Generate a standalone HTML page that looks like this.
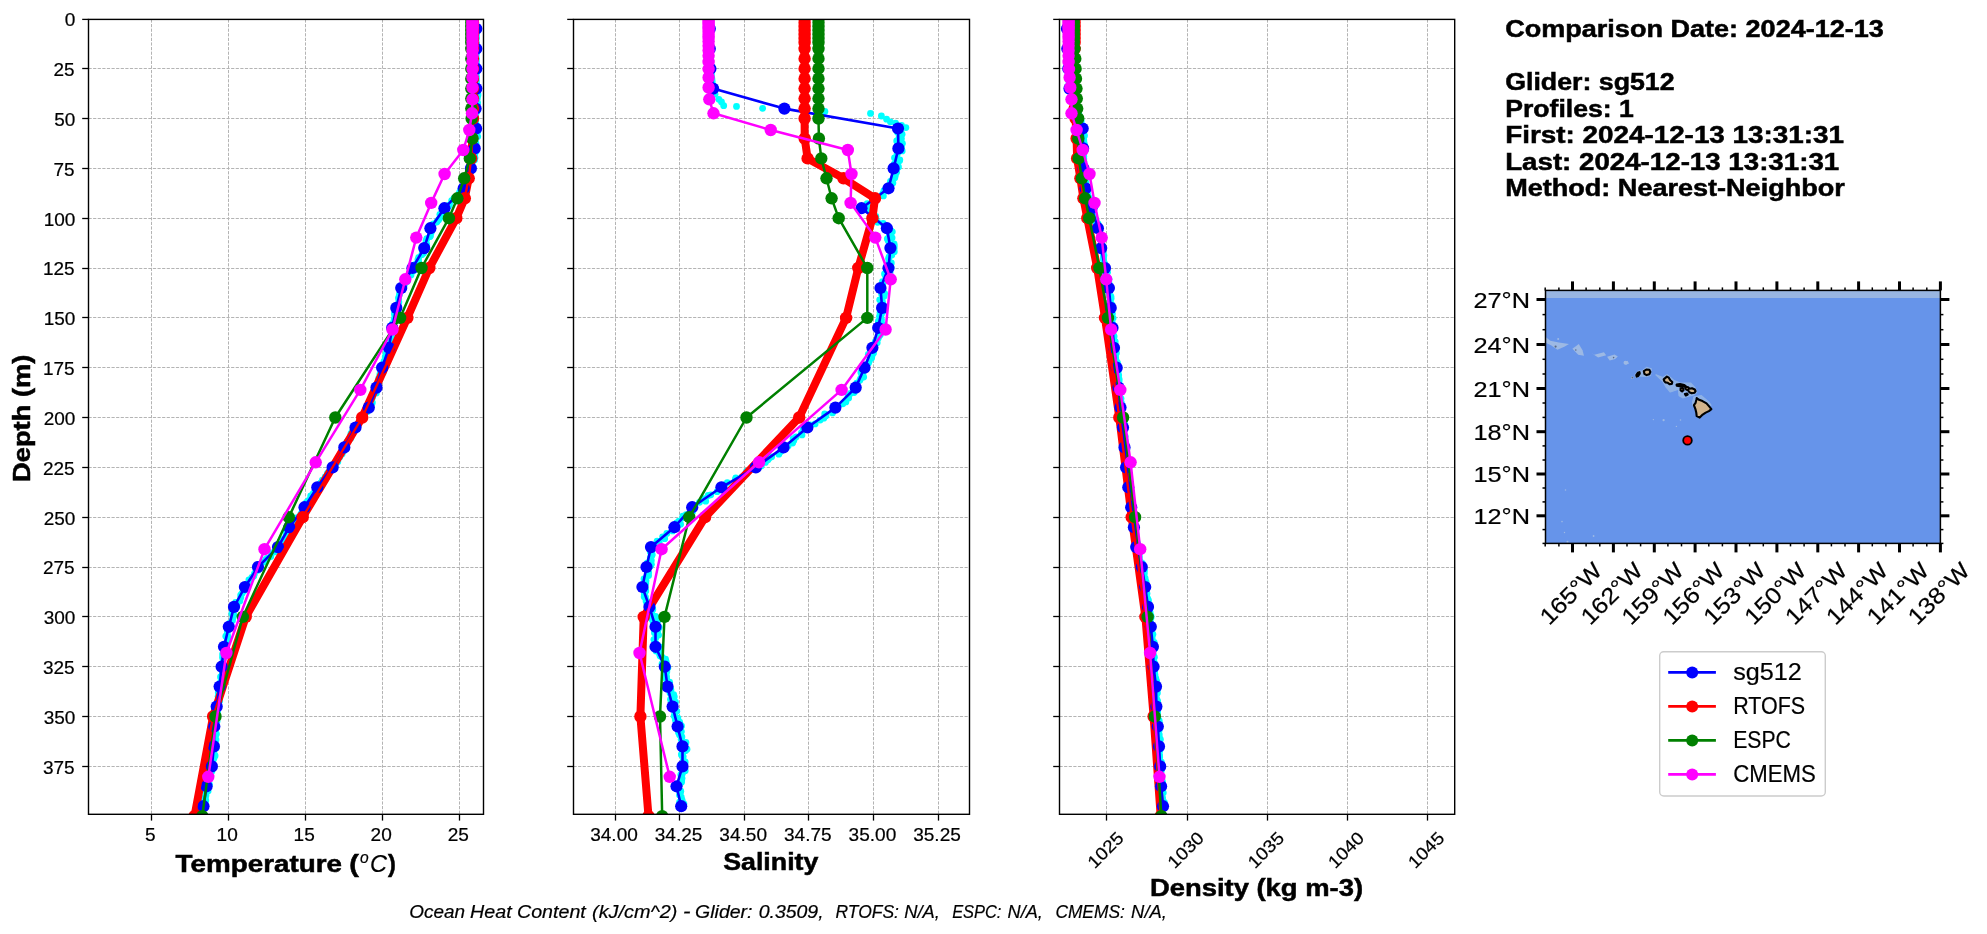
<!DOCTYPE html>
<html lang="en"><head><meta charset="utf-8"><title>Glider vs model profile comparison</title>
<style>html,body{margin:0;padding:0;background:#fff}svg{display:block;will-change:transform}text{font-family:"Liberation Sans",sans-serif}</style></head><body>
<svg width="1987" height="934" viewBox="0 0 1987 934">
<rect width="1987" height="934" fill="#fff"/>
<defs>
<clipPath id="c0"><rect x="88.5" y="19.4" width="395" height="794.9"/></clipPath>
<clipPath id="c1"><rect x="573.5" y="19.4" width="396" height="794.9"/></clipPath>
<clipPath id="c2"><rect x="1059.5" y="19.4" width="395.2" height="794.9"/></clipPath>
<clipPath id="cm"><rect x="1545.5" y="290.4" width="394.9" height="253"/></clipPath>
</defs>
<g stroke="#b4b4b4" stroke-width="1" stroke-dasharray="3.2 1.4" fill="none">
<line x1="151.5" y1="19.4" x2="151.5" y2="814.3"/>
<line x1="228.5" y1="19.4" x2="228.5" y2="814.3"/>
<line x1="305.5" y1="19.4" x2="305.5" y2="814.3"/>
<line x1="382.5" y1="19.4" x2="382.5" y2="814.3"/>
<line x1="459.5" y1="19.4" x2="459.5" y2="814.3"/>
<line x1="88.5" y1="68.5" x2="483.5" y2="68.5"/>
<line x1="88.5" y1="118.5" x2="483.5" y2="118.5"/>
<line x1="88.5" y1="168.5" x2="483.5" y2="168.5"/>
<line x1="88.5" y1="218.5" x2="483.5" y2="218.5"/>
<line x1="88.5" y1="268.5" x2="483.5" y2="268.5"/>
<line x1="88.5" y1="317.5" x2="483.5" y2="317.5"/>
<line x1="88.5" y1="367.5" x2="483.5" y2="367.5"/>
<line x1="88.5" y1="417.5" x2="483.5" y2="417.5"/>
<line x1="88.5" y1="467.5" x2="483.5" y2="467.5"/>
<line x1="88.5" y1="517.5" x2="483.5" y2="517.5"/>
<line x1="88.5" y1="567.5" x2="483.5" y2="567.5"/>
<line x1="88.5" y1="616.5" x2="483.5" y2="616.5"/>
<line x1="88.5" y1="666.5" x2="483.5" y2="666.5"/>
<line x1="88.5" y1="716.5" x2="483.5" y2="716.5"/>
<line x1="88.5" y1="766.5" x2="483.5" y2="766.5"/>
</g>
<g clip-path="url(#c0)">
<g fill="#00ffff">
<circle cx="476.3" cy="28.1" r="3.4"/><circle cx="476.3" cy="30.2" r="3.4"/><circle cx="476.3" cy="33" r="3.4"/><circle cx="476.3" cy="35.5" r="3.4"/><circle cx="476.3" cy="37.5" r="3.4"/><circle cx="476.3" cy="39.1" r="3.4"/><circle cx="476.3" cy="42.8" r="3.4"/><circle cx="476.3" cy="43.8" r="3.4"/><circle cx="476.3" cy="47.4" r="3.4"/><circle cx="476.3" cy="48.5" r="3.4"/><circle cx="476.3" cy="50.1" r="3.4"/><circle cx="476.3" cy="52.8" r="3.4"/><circle cx="476.3" cy="54.6" r="3.4"/><circle cx="476.3" cy="58.2" r="3.4"/><circle cx="476.3" cy="60" r="3.4"/><circle cx="476.3" cy="61.8" r="3.4"/><circle cx="476.3" cy="63.4" r="3.4"/><circle cx="476.3" cy="65.9" r="3.4"/><circle cx="476.3" cy="68.5" r="3.4"/><circle cx="476.3" cy="71.1" r="3.4"/><circle cx="476.3" cy="72.7" r="3.4"/><circle cx="476.3" cy="75.7" r="3.4"/><circle cx="476.3" cy="77.7" r="3.4"/><circle cx="476.3" cy="80.5" r="3.4"/><circle cx="476.3" cy="81.6" r="3.4"/><circle cx="476.3" cy="83.4" r="3.4"/><circle cx="476.3" cy="86.9" r="3.4"/><circle cx="475.9" cy="88.6" r="3.4"/><circle cx="475.5" cy="91.2" r="3.4"/><circle cx="477.7" cy="93.2" r="3.4"/><circle cx="478" cy="94.9" r="3.4"/><circle cx="477.3" cy="97.7" r="3.4"/><circle cx="476.9" cy="99.6" r="3.4"/><circle cx="477.6" cy="102.8" r="3.4"/><circle cx="476.4" cy="104.5" r="3.4"/><circle cx="475" cy="106.7" r="3.4"/><circle cx="476.8" cy="109.5" r="3.4"/><circle cx="477.4" cy="110.3" r="3.4"/><circle cx="476.1" cy="113.3" r="3.4"/><circle cx="475" cy="115.1" r="3.4"/><circle cx="475.5" cy="116.6" r="3.4"/><circle cx="475.2" cy="120.2" r="3.4"/><circle cx="475.5" cy="121.3" r="3.4"/><circle cx="476.4" cy="124.8" r="3.4"/><circle cx="475.4" cy="126.2" r="3.4"/><circle cx="477" cy="129.3" r="3.4"/><circle cx="477.7" cy="131.4" r="3.4"/><circle cx="475.8" cy="132.7" r="3.4"/><circle cx="475.9" cy="135.9" r="3.4"/><circle cx="477.7" cy="136.6" r="3.4"/><circle cx="475" cy="139" r="3.4"/><circle cx="475" cy="141.7" r="3.4"/><circle cx="476" cy="143.5" r="3.4"/><circle cx="474" cy="146" r="3.4"/><circle cx="475" cy="148.6" r="3.4"/><circle cx="476.4" cy="151" r="3.4"/><circle cx="474.6" cy="153.1" r="3.4"/><circle cx="474.7" cy="154.2" r="3.4"/><circle cx="475" cy="157.8" r="3.4"/><circle cx="474.5" cy="160.1" r="3.4"/><circle cx="472.5" cy="161.5" r="3.4"/><circle cx="471.2" cy="164.2" r="3.4"/><circle cx="470.6" cy="165.3" r="3.4"/><circle cx="470.7" cy="167.7" r="3.4"/><circle cx="470.3" cy="169.7" r="3.4"/><circle cx="468.4" cy="172.1" r="3.4"/><circle cx="467.9" cy="174.7" r="3.4"/><circle cx="466.9" cy="178" r="3.4"/><circle cx="468" cy="178.7" r="3.4"/><circle cx="466" cy="181.3" r="3.4"/><circle cx="465.6" cy="183.1" r="3.4"/><circle cx="466.3" cy="187.1" r="3.4"/><circle cx="464.3" cy="188.3" r="3.4"/><circle cx="461" cy="189.7" r="3.4"/><circle cx="459.6" cy="192.2" r="3.4"/><circle cx="459" cy="194.3" r="3.4"/><circle cx="454.3" cy="198.1" r="3.4"/><circle cx="453.8" cy="198.7" r="3.4"/><circle cx="451.7" cy="200.6" r="3.4"/><circle cx="449.5" cy="204.8" r="3.4"/><circle cx="448.4" cy="206.4" r="3.4"/><circle cx="444.4" cy="208" r="3.4"/><circle cx="442.5" cy="211" r="3.4"/><circle cx="442.1" cy="213.2" r="3.4"/><circle cx="439.9" cy="214.3" r="3.4"/><circle cx="439.9" cy="218.1" r="3.4"/><circle cx="438.5" cy="219.9" r="3.4"/><circle cx="436.8" cy="222" r="3.4"/><circle cx="433.4" cy="223.8" r="3.4"/><circle cx="432.2" cy="225" r="3.4"/><circle cx="429.6" cy="227.7" r="3.4"/><circle cx="429.7" cy="230.8" r="3.4"/><circle cx="431.2" cy="232.5" r="3.4"/><circle cx="430.5" cy="235.8" r="3.4"/><circle cx="429.8" cy="236.7" r="3.4"/><circle cx="426.8" cy="238.7" r="3.4"/><circle cx="426" cy="240.9" r="3.4"/><circle cx="426.7" cy="244.5" r="3.4"/><circle cx="426.7" cy="245.8" r="3.4"/><circle cx="425.4" cy="248.7" r="3.4"/><circle cx="422.3" cy="250.6" r="3.4"/><circle cx="423.6" cy="253.1" r="3.4"/><circle cx="421.8" cy="254.7" r="3.4"/><circle cx="418.7" cy="257.5" r="3.4"/><circle cx="417.9" cy="259.8" r="3.4"/><circle cx="418.6" cy="261.2" r="3.4"/><circle cx="415.5" cy="264.5" r="3.4"/><circle cx="415.2" cy="265.2" r="3.4"/><circle cx="412" cy="267.3" r="3.4"/><circle cx="413.3" cy="270.9" r="3.4"/><circle cx="409.6" cy="273.1" r="3.4"/><circle cx="411" cy="275" r="3.4"/><circle cx="407.7" cy="277" r="3.4"/><circle cx="405.8" cy="278.1" r="3.4"/><circle cx="407.2" cy="281.6" r="3.4"/><circle cx="404.5" cy="284.4" r="3.4"/><circle cx="403" cy="286.5" r="3.4"/><circle cx="403" cy="287.4" r="3.4"/><circle cx="400.6" cy="289.8" r="3.4"/><circle cx="400" cy="292.6" r="3.4"/><circle cx="399.5" cy="294.4" r="3.4"/><circle cx="398.6" cy="297.6" r="3.4"/><circle cx="398.7" cy="298.9" r="3.4"/><circle cx="398.9" cy="302.1" r="3.4"/><circle cx="397.9" cy="304.3" r="3.4"/><circle cx="397.6" cy="305.7" r="3.4"/><circle cx="397.1" cy="306.9" r="3.4"/><circle cx="396.4" cy="309.5" r="3.4"/><circle cx="394.5" cy="312.9" r="3.4"/><circle cx="394.6" cy="314.5" r="3.4"/><circle cx="395.9" cy="316.9" r="3.4"/><circle cx="394.2" cy="319" r="3.4"/><circle cx="394.5" cy="321.8" r="3.4"/><circle cx="392.6" cy="323.5" r="3.4"/><circle cx="392.6" cy="325.2" r="3.4"/><circle cx="393.8" cy="327.8" r="3.4"/><circle cx="392.8" cy="330.6" r="3.4"/><circle cx="393.5" cy="332.1" r="3.4"/><circle cx="392.2" cy="334.5" r="3.4"/><circle cx="391.5" cy="337.1" r="3.4"/><circle cx="390.9" cy="339" r="3.4"/><circle cx="390.6" cy="342" r="3.4"/><circle cx="391" cy="344.1" r="3.4"/><circle cx="391.4" cy="345.1" r="3.4"/><circle cx="389.8" cy="348.6" r="3.4"/><circle cx="390" cy="349.3" r="3.4"/><circle cx="386.9" cy="352.1" r="3.4"/><circle cx="386" cy="353.9" r="3.4"/><circle cx="385.2" cy="357" r="3.4"/><circle cx="386.8" cy="359.6" r="3.4"/><circle cx="384" cy="361.5" r="3.4"/><circle cx="384.8" cy="362.6" r="3.4"/><circle cx="384.8" cy="366.4" r="3.4"/><circle cx="381.9" cy="368.6" r="3.4"/><circle cx="381.9" cy="369.9" r="3.4"/><circle cx="383.1" cy="372.8" r="3.4"/><circle cx="379.9" cy="374.2" r="3.4"/><circle cx="380.4" cy="376.2" r="3.4"/><circle cx="378.7" cy="378.4" r="3.4"/><circle cx="379.8" cy="380" r="3.4"/><circle cx="378.6" cy="383.1" r="3.4"/><circle cx="376.3" cy="385.1" r="3.4"/><circle cx="377.6" cy="387.7" r="3.4"/><circle cx="375" cy="390.8" r="3.4"/><circle cx="376.4" cy="393" r="3.4"/><circle cx="373.4" cy="393.8" r="3.4"/><circle cx="372.3" cy="397" r="3.4"/><circle cx="372.2" cy="398" r="3.4"/><circle cx="371.8" cy="401.7" r="3.4"/><circle cx="372.3" cy="402.7" r="3.4"/><circle cx="369.3" cy="406.2" r="3.4"/><circle cx="369.7" cy="408" r="3.4"/><circle cx="366.7" cy="408.9" r="3.4"/><circle cx="367.2" cy="411.8" r="3.4"/><circle cx="363.7" cy="415.1" r="3.4"/><circle cx="364" cy="417" r="3.4"/><circle cx="360.8" cy="419.3" r="3.4"/><circle cx="359.3" cy="421.6" r="3.4"/><circle cx="359" cy="422.7" r="3.4"/><circle cx="357.9" cy="426.1" r="3.4"/><circle cx="355.5" cy="426.8" r="3.4"/><circle cx="355.1" cy="429.2" r="3.4"/><circle cx="352.5" cy="431.2" r="3.4"/><circle cx="351" cy="433.5" r="3.4"/><circle cx="350.6" cy="436" r="3.4"/><circle cx="350.8" cy="438.2" r="3.4"/><circle cx="348.8" cy="440.1" r="3.4"/><circle cx="347" cy="442" r="3.4"/><circle cx="345.5" cy="444.2" r="3.4"/><circle cx="345.8" cy="447.5" r="3.4"/><circle cx="342.7" cy="449.6" r="3.4"/><circle cx="343.8" cy="451.1" r="3.4"/><circle cx="342.1" cy="453.9" r="3.4"/><circle cx="339.8" cy="457" r="3.4"/><circle cx="338.2" cy="458.5" r="3.4"/><circle cx="337.8" cy="461.7" r="3.4"/><circle cx="335.4" cy="463.6" r="3.4"/><circle cx="335.3" cy="465.4" r="3.4"/><circle cx="333" cy="467.1" r="3.4"/><circle cx="330.2" cy="468.8" r="3.4"/><circle cx="328.5" cy="472.3" r="3.4"/><circle cx="327.4" cy="473.3" r="3.4"/><circle cx="325.2" cy="476.9" r="3.4"/><circle cx="326" cy="478.8" r="3.4"/><circle cx="322.4" cy="480.1" r="3.4"/><circle cx="320.8" cy="482.8" r="3.4"/><circle cx="318.6" cy="485" r="3.4"/><circle cx="317.3" cy="488.2" r="3.4"/><circle cx="318.1" cy="489.6" r="3.4"/><circle cx="314.4" cy="492.7" r="3.4"/><circle cx="313.1" cy="493.7" r="3.4"/><circle cx="310.7" cy="495.9" r="3.4"/><circle cx="310.8" cy="498.4" r="3.4"/><circle cx="308.5" cy="500.6" r="3.4"/><circle cx="306.5" cy="502.3" r="3.4"/><circle cx="305.3" cy="504.8" r="3.4"/><circle cx="303.8" cy="506.3" r="3.4"/><circle cx="302.9" cy="508.9" r="3.4"/><circle cx="302.1" cy="511.7" r="3.4"/><circle cx="300.9" cy="514.2" r="3.4"/><circle cx="299.1" cy="516.9" r="3.4"/><circle cx="296.4" cy="518" r="3.4"/><circle cx="296.6" cy="519.8" r="3.4"/><circle cx="294" cy="523" r="3.4"/><circle cx="290.2" cy="525.6" r="3.4"/><circle cx="291.2" cy="527.4" r="3.4"/><circle cx="289.4" cy="530" r="3.4"/><circle cx="286.3" cy="531.6" r="3.4"/><circle cx="286.2" cy="534.5" r="3.4"/><circle cx="285.9" cy="536.7" r="3.4"/><circle cx="284" cy="539" r="3.4"/><circle cx="283" cy="540.8" r="3.4"/><circle cx="280.3" cy="541.7" r="3.4"/><circle cx="278.8" cy="544.6" r="3.4"/><circle cx="277.5" cy="547.8" r="3.4"/><circle cx="276.7" cy="549.6" r="3.4"/><circle cx="274.7" cy="551.9" r="3.4"/><circle cx="272" cy="552.8" r="3.4"/><circle cx="270.8" cy="556.5" r="3.4"/><circle cx="267.6" cy="558.2" r="3.4"/><circle cx="265.9" cy="559.5" r="3.4"/><circle cx="263.9" cy="562.1" r="3.4"/><circle cx="259.6" cy="564.4" r="3.4"/><circle cx="259.5" cy="566.4" r="3.4"/><circle cx="258" cy="570.2" r="3.4"/><circle cx="255.8" cy="571.2" r="3.4"/><circle cx="254.3" cy="574" r="3.4"/><circle cx="253.8" cy="576.1" r="3.4"/><circle cx="251.9" cy="577.3" r="3.4"/><circle cx="248.9" cy="579.8" r="3.4"/><circle cx="249.3" cy="582.1" r="3.4"/><circle cx="247.3" cy="583.8" r="3.4"/><circle cx="244.2" cy="586.5" r="3.4"/><circle cx="245" cy="589.6" r="3.4"/><circle cx="243.8" cy="591" r="3.4"/><circle cx="242" cy="593.5" r="3.4"/><circle cx="240.7" cy="595.1" r="3.4"/><circle cx="240.8" cy="597.4" r="3.4"/><circle cx="239.9" cy="601.1" r="3.4"/><circle cx="235.6" cy="602.4" r="3.4"/><circle cx="237" cy="605.6" r="3.4"/><circle cx="234.6" cy="606.4" r="3.4"/><circle cx="233.2" cy="610" r="3.4"/><circle cx="232.6" cy="611.5" r="3.4"/><circle cx="231.8" cy="613.6" r="3.4"/><circle cx="233.9" cy="615" r="3.4"/><circle cx="232.9" cy="618" r="3.4"/><circle cx="232.5" cy="620.6" r="3.4"/><circle cx="229.8" cy="623.2" r="3.4"/><circle cx="230.1" cy="623.7" r="3.4"/><circle cx="227.9" cy="626.8" r="3.4"/><circle cx="228.8" cy="628.7" r="3.4"/><circle cx="227.3" cy="631" r="3.4"/><circle cx="227.3" cy="634.2" r="3.4"/><circle cx="225.8" cy="636.2" r="3.4"/><circle cx="227.9" cy="637.2" r="3.4"/><circle cx="227.7" cy="640.6" r="3.4"/><circle cx="227.1" cy="641.9" r="3.4"/><circle cx="224.8" cy="644.3" r="3.4"/><circle cx="226.3" cy="646.9" r="3.4"/><circle cx="224" cy="648.8" r="3.4"/><circle cx="223.5" cy="650.3" r="3.4"/><circle cx="222.6" cy="654.1" r="3.4"/><circle cx="223" cy="656.5" r="3.4"/><circle cx="222.6" cy="657.4" r="3.4"/><circle cx="223.2" cy="659.4" r="3.4"/><circle cx="222.4" cy="663.2" r="3.4"/><circle cx="223.8" cy="665.1" r="3.4"/><circle cx="222.7" cy="667.5" r="3.4"/><circle cx="223.5" cy="669" r="3.4"/><circle cx="222.6" cy="670.2" r="3.4"/><circle cx="222.4" cy="673.3" r="3.4"/><circle cx="222.2" cy="675.9" r="3.4"/><circle cx="220.5" cy="676.9" r="3.4"/><circle cx="222.4" cy="679.2" r="3.4"/><circle cx="220.7" cy="681.9" r="3.4"/><circle cx="219.9" cy="684.9" r="3.4"/><circle cx="221.8" cy="686.2" r="3.4"/><circle cx="220.5" cy="688.5" r="3.4"/><circle cx="219.9" cy="690.9" r="3.4"/><circle cx="218.3" cy="692.6" r="3.4"/><circle cx="218.1" cy="696.3" r="3.4"/><circle cx="218.7" cy="697.2" r="3.4"/><circle cx="219.7" cy="700.9" r="3.4"/><circle cx="217.9" cy="701.4" r="3.4"/><circle cx="216.8" cy="703.5" r="3.4"/><circle cx="216.9" cy="705.8" r="3.4"/><circle cx="216.3" cy="708.3" r="3.4"/><circle cx="217.1" cy="711.8" r="3.4"/><circle cx="217.4" cy="713" r="3.4"/><circle cx="216.1" cy="715.5" r="3.4"/><circle cx="215.7" cy="717.3" r="3.4"/><circle cx="214.4" cy="719.4" r="3.4"/><circle cx="217" cy="721.3" r="3.4"/><circle cx="215.3" cy="724.6" r="3.4"/><circle cx="216.2" cy="725.9" r="3.4"/><circle cx="214.2" cy="728.2" r="3.4"/><circle cx="214.6" cy="730.8" r="3.4"/><circle cx="216.3" cy="733.8" r="3.4"/><circle cx="216" cy="734.4" r="3.4"/><circle cx="213.3" cy="738" r="3.4"/><circle cx="216" cy="739.7" r="3.4"/><circle cx="215" cy="741" r="3.4"/><circle cx="214.3" cy="745.1" r="3.4"/><circle cx="215.7" cy="747.2" r="3.4"/><circle cx="215.9" cy="748.2" r="3.4"/><circle cx="212.9" cy="750.2" r="3.4"/><circle cx="214" cy="753.4" r="3.4"/><circle cx="215.1" cy="755.7" r="3.4"/><circle cx="214" cy="758" r="3.4"/><circle cx="213.2" cy="759.8" r="3.4"/><circle cx="211.6" cy="762.5" r="3.4"/><circle cx="212" cy="765" r="3.4"/><circle cx="213.1" cy="766" r="3.4"/><circle cx="210.8" cy="768.1" r="3.4"/><circle cx="211.9" cy="771.2" r="3.4"/><circle cx="209.6" cy="772.2" r="3.4"/><circle cx="210.3" cy="775.4" r="3.4"/><circle cx="209.3" cy="776.9" r="3.4"/><circle cx="209.4" cy="778.7" r="3.4"/><circle cx="207.9" cy="781.8" r="3.4"/><circle cx="209.4" cy="784.4" r="3.4"/><circle cx="208.5" cy="786.3" r="3.4"/><circle cx="206.1" cy="788" r="3.4"/><circle cx="208.1" cy="791.1" r="3.4"/><circle cx="205.7" cy="792" r="3.4"/><circle cx="205.9" cy="795.5" r="3.4"/><circle cx="205.3" cy="796.9" r="3.4"/><circle cx="205.8" cy="800.4" r="3.4"/><circle cx="204" cy="800.9" r="3.4"/><circle cx="204" cy="803.9" r="3.4"/>
</g>
<polyline fill="none" stroke="#ff0000" stroke-width="8" stroke-linejoin="round" stroke-linecap="butt" points="473,18.9 473,22.8 473,26.8 473,30.8 473,34.8 473,38.8 473,42.8 473,48.8 473,58.7 473,68.7 473,78.7 473,88.6 473,98.6 473,108.6 473,118.5 472.3,138.5 471.2,158.4 468.7,178.3 464.8,198.3 456.3,218.2 429.3,268 407.3,317.9 362.2,417.5 302.7,517.2 245.7,616.9 213.1,716.5 194.5,816.2"/>
<polyline fill="none" stroke="#0000ff" stroke-width="2.6" stroke-linejoin="round" stroke-linecap="butt" points="476.3,28.8 476.3,48.8 476.3,68.7 476.3,88.6 475.6,108.6 476.1,128.5 474.7,148.4 470.9,168.4 463.7,188.3 444.4,208.2 430.4,228.2 424.2,248.1 412.5,268 401.2,288 396.3,307.9 392.2,327.8 388.9,347.8 382.1,367.7 376.5,387.6 368.8,407.6 355.5,427.5 344.3,447.4 332.6,467.4 317.3,487.3 304.5,507.2 289.2,527.2 278,547.1 258,567 244.9,587 234,606.9 228.8,626.8 224,646.8 221.6,666.7 219.6,686.6 216.7,706.6 214.3,726.5 213.9,746.4 211.9,766.4 206.6,786.3 203.5,806.2"/>
<g fill="#0000ff">
<circle cx="476.3" cy="28.8" r="6.1"/><circle cx="476.3" cy="48.8" r="6.1"/><circle cx="476.3" cy="68.7" r="6.1"/><circle cx="476.3" cy="88.6" r="6.1"/><circle cx="475.6" cy="108.6" r="6.1"/><circle cx="476.1" cy="128.5" r="6.1"/><circle cx="474.7" cy="148.4" r="6.1"/><circle cx="470.9" cy="168.4" r="6.1"/><circle cx="463.7" cy="188.3" r="6.1"/><circle cx="444.4" cy="208.2" r="6.1"/><circle cx="430.4" cy="228.2" r="6.1"/><circle cx="424.2" cy="248.1" r="6.1"/><circle cx="412.5" cy="268" r="6.1"/><circle cx="401.2" cy="288" r="6.1"/><circle cx="396.3" cy="307.9" r="6.1"/><circle cx="392.2" cy="327.8" r="6.1"/><circle cx="388.9" cy="347.8" r="6.1"/><circle cx="382.1" cy="367.7" r="6.1"/><circle cx="376.5" cy="387.6" r="6.1"/><circle cx="368.8" cy="407.6" r="6.1"/><circle cx="355.5" cy="427.5" r="6.1"/><circle cx="344.3" cy="447.4" r="6.1"/><circle cx="332.6" cy="467.4" r="6.1"/><circle cx="317.3" cy="487.3" r="6.1"/><circle cx="304.5" cy="507.2" r="6.1"/><circle cx="289.2" cy="527.2" r="6.1"/><circle cx="278" cy="547.1" r="6.1"/><circle cx="258" cy="567" r="6.1"/><circle cx="244.9" cy="587" r="6.1"/><circle cx="234" cy="606.9" r="6.1"/><circle cx="228.8" cy="626.8" r="6.1"/><circle cx="224" cy="646.8" r="6.1"/><circle cx="221.6" cy="666.7" r="6.1"/><circle cx="219.6" cy="686.6" r="6.1"/><circle cx="216.7" cy="706.6" r="6.1"/><circle cx="214.3" cy="726.5" r="6.1"/><circle cx="213.9" cy="746.4" r="6.1"/><circle cx="211.9" cy="766.4" r="6.1"/><circle cx="206.6" cy="786.3" r="6.1"/><circle cx="203.5" cy="806.2" r="6.1"/>
</g>
<polyline fill="none" stroke="#ff0000" stroke-width="2.4" stroke-linejoin="round" stroke-linecap="butt" points="473,18.9 473,22.8 473,26.8 473,30.8 473,34.8 473,38.8 473,42.8 473,48.8 473,58.7 473,68.7 473,78.7 473,88.6 473,98.6 473,108.6 473,118.5 472.3,138.5 471.2,158.4 468.7,178.3 464.8,198.3 456.3,218.2 429.3,268 407.3,317.9 362.2,417.5 302.7,517.2 245.7,616.9 213.1,716.5 194.5,816.2"/>
<g fill="#ff0000">
<circle cx="473" cy="18.9" r="6.2"/><circle cx="473" cy="22.8" r="6.2"/><circle cx="473" cy="26.8" r="6.2"/><circle cx="473" cy="30.8" r="6.2"/><circle cx="473" cy="34.8" r="6.2"/><circle cx="473" cy="38.8" r="6.2"/><circle cx="473" cy="42.8" r="6.2"/><circle cx="473" cy="48.8" r="6.2"/><circle cx="473" cy="58.7" r="6.2"/><circle cx="473" cy="68.7" r="6.2"/><circle cx="473" cy="78.7" r="6.2"/><circle cx="473" cy="88.6" r="6.2"/><circle cx="473" cy="98.6" r="6.2"/><circle cx="473" cy="108.6" r="6.2"/><circle cx="473" cy="118.5" r="6.2"/><circle cx="472.3" cy="138.5" r="6.2"/><circle cx="471.2" cy="158.4" r="6.2"/><circle cx="468.7" cy="178.3" r="6.2"/><circle cx="464.8" cy="198.3" r="6.2"/><circle cx="456.3" cy="218.2" r="6.2"/><circle cx="429.3" cy="268" r="6.2"/><circle cx="407.3" cy="317.9" r="6.2"/><circle cx="362.2" cy="417.5" r="6.2"/><circle cx="302.7" cy="517.2" r="6.2"/><circle cx="245.7" cy="616.9" r="6.2"/><circle cx="213.1" cy="716.5" r="6.2"/><circle cx="194.5" cy="816.2" r="6.2"/>
</g>
<polyline fill="none" stroke="#008000" stroke-width="2.5" stroke-linejoin="round" stroke-linecap="butt" points="471.3,18.9 471.3,22.8 471.3,26.8 471.3,30.8 471.3,34.8 471.3,38.8 471.3,42.8 471.3,48.8 471.3,58.7 471.3,68.7 471.3,78.7 471.3,88.6 471.3,98.6 471.3,108.6 471.6,118.5 472.4,138.5 469.8,158.4 464.2,178.3 457.4,198.3 448.9,218.2 421.5,268 400.1,317.9 335.3,417.5 288.8,517.2 242.8,616.9 215.5,716.5 202.3,816.2"/>
<g fill="#008000">
<circle cx="471.3" cy="18.9" r="6.2"/><circle cx="471.3" cy="22.8" r="6.2"/><circle cx="471.3" cy="26.8" r="6.2"/><circle cx="471.3" cy="30.8" r="6.2"/><circle cx="471.3" cy="34.8" r="6.2"/><circle cx="471.3" cy="38.8" r="6.2"/><circle cx="471.3" cy="42.8" r="6.2"/><circle cx="471.3" cy="48.8" r="6.2"/><circle cx="471.3" cy="58.7" r="6.2"/><circle cx="471.3" cy="68.7" r="6.2"/><circle cx="471.3" cy="78.7" r="6.2"/><circle cx="471.3" cy="88.6" r="6.2"/><circle cx="471.3" cy="98.6" r="6.2"/><circle cx="471.3" cy="108.6" r="6.2"/><circle cx="471.6" cy="118.5" r="6.2"/><circle cx="472.4" cy="138.5" r="6.2"/><circle cx="469.8" cy="158.4" r="6.2"/><circle cx="464.2" cy="178.3" r="6.2"/><circle cx="457.4" cy="198.3" r="6.2"/><circle cx="448.9" cy="218.2" r="6.2"/><circle cx="421.5" cy="268" r="6.2"/><circle cx="400.1" cy="317.9" r="6.2"/><circle cx="335.3" cy="417.5" r="6.2"/><circle cx="288.8" cy="517.2" r="6.2"/><circle cx="242.8" cy="616.9" r="6.2"/><circle cx="215.5" cy="716.5" r="6.2"/><circle cx="202.3" cy="816.2" r="6.2"/>
</g>
<polyline fill="none" stroke="#ff00ff" stroke-width="2.5" stroke-linejoin="round" stroke-linecap="butt" points="472.5,19.8 472.5,21.9 472.5,24.1 472.5,26.5 472.5,29 472.5,31.7 472.5,34.7 472.5,37.9 472.5,41.6 472.5,45.7 472.5,50.4 472.5,55.7 472.5,61.9 472.5,69.1 472.5,77.5 472.5,87.5 472.5,99.3 472,113.3 469.3,130 463.3,150 444.6,174 431.2,202.9 416.3,237.6 405.3,279.3 392.5,329.5 360.3,389.9 315.7,462.3 264.5,549.2 226.4,653 208.3,776.8"/>
<g fill="#ff00ff">
<circle cx="472.5" cy="19.8" r="6.2"/><circle cx="472.5" cy="21.9" r="6.2"/><circle cx="472.5" cy="24.1" r="6.2"/><circle cx="472.5" cy="26.5" r="6.2"/><circle cx="472.5" cy="29" r="6.2"/><circle cx="472.5" cy="31.7" r="6.2"/><circle cx="472.5" cy="34.7" r="6.2"/><circle cx="472.5" cy="37.9" r="6.2"/><circle cx="472.5" cy="41.6" r="6.2"/><circle cx="472.5" cy="45.7" r="6.2"/><circle cx="472.5" cy="50.4" r="6.2"/><circle cx="472.5" cy="55.7" r="6.2"/><circle cx="472.5" cy="61.9" r="6.2"/><circle cx="472.5" cy="69.1" r="6.2"/><circle cx="472.5" cy="77.5" r="6.2"/><circle cx="472.5" cy="87.5" r="6.2"/><circle cx="472.5" cy="99.3" r="6.2"/><circle cx="472" cy="113.3" r="6.2"/><circle cx="469.3" cy="130" r="6.2"/><circle cx="463.3" cy="150" r="6.2"/><circle cx="444.6" cy="174" r="6.2"/><circle cx="431.2" cy="202.9" r="6.2"/><circle cx="416.3" cy="237.6" r="6.2"/><circle cx="405.3" cy="279.3" r="6.2"/><circle cx="392.5" cy="329.5" r="6.2"/><circle cx="360.3" cy="389.9" r="6.2"/><circle cx="315.7" cy="462.3" r="6.2"/><circle cx="264.5" cy="549.2" r="6.2"/><circle cx="226.4" cy="653" r="6.2"/><circle cx="208.3" cy="776.8" r="6.2"/>
</g>
</g>
<rect x="88.5" y="19.4" width="395" height="794.9" fill="none" stroke="#000" stroke-width="1.4"/>
<g stroke="#000" stroke-width="1.3">
<line x1="151.5" y1="814.3" x2="151.5" y2="820.6"/>
<line x1="228.5" y1="814.3" x2="228.5" y2="820.6"/>
<line x1="305.5" y1="814.3" x2="305.5" y2="820.6"/>
<line x1="382.5" y1="814.3" x2="382.5" y2="820.6"/>
<line x1="459.5" y1="814.3" x2="459.5" y2="820.6"/>
<line x1="82.2" y1="19.4" x2="88.5" y2="19.4"/>
<line x1="82.2" y1="68.5" x2="88.5" y2="68.5"/>
<line x1="82.2" y1="118.5" x2="88.5" y2="118.5"/>
<line x1="82.2" y1="168.5" x2="88.5" y2="168.5"/>
<line x1="82.2" y1="218.5" x2="88.5" y2="218.5"/>
<line x1="82.2" y1="268.5" x2="88.5" y2="268.5"/>
<line x1="82.2" y1="317.5" x2="88.5" y2="317.5"/>
<line x1="82.2" y1="367.5" x2="88.5" y2="367.5"/>
<line x1="82.2" y1="417.5" x2="88.5" y2="417.5"/>
<line x1="82.2" y1="467.5" x2="88.5" y2="467.5"/>
<line x1="82.2" y1="517.5" x2="88.5" y2="517.5"/>
<line x1="82.2" y1="567.5" x2="88.5" y2="567.5"/>
<line x1="82.2" y1="616.5" x2="88.5" y2="616.5"/>
<line x1="82.2" y1="666.5" x2="88.5" y2="666.5"/>
<line x1="82.2" y1="716.5" x2="88.5" y2="716.5"/>
<line x1="82.2" y1="766.5" x2="88.5" y2="766.5"/>
</g>
<text x="150.2" y="841.4" font-size="17.7" text-anchor="middle" textLength="10.6" lengthAdjust="spacingAndGlyphs" stroke="#000" stroke-width="0.2">5</text>
<text x="227.2" y="841.4" font-size="17.7" text-anchor="middle" textLength="21.2" lengthAdjust="spacingAndGlyphs" stroke="#000" stroke-width="0.2">10</text>
<text x="304.2" y="841.4" font-size="17.7" text-anchor="middle" textLength="21.2" lengthAdjust="spacingAndGlyphs" stroke="#000" stroke-width="0.2">15</text>
<text x="381.2" y="841.4" font-size="17.7" text-anchor="middle" textLength="21.2" lengthAdjust="spacingAndGlyphs" stroke="#000" stroke-width="0.2">20</text>
<text x="458.3" y="841.4" font-size="17.7" text-anchor="middle" textLength="21.2" lengthAdjust="spacingAndGlyphs" stroke="#000" stroke-width="0.2">25</text>
<g stroke="#b4b4b4" stroke-width="1" stroke-dasharray="3.2 1.4" fill="none">
<line x1="615.5" y1="19.4" x2="615.5" y2="814.3"/>
<line x1="679.5" y1="19.4" x2="679.5" y2="814.3"/>
<line x1="744.5" y1="19.4" x2="744.5" y2="814.3"/>
<line x1="808.5" y1="19.4" x2="808.5" y2="814.3"/>
<line x1="873.5" y1="19.4" x2="873.5" y2="814.3"/>
<line x1="938.5" y1="19.4" x2="938.5" y2="814.3"/>
<line x1="573.5" y1="68.5" x2="969.5" y2="68.5"/>
<line x1="573.5" y1="118.5" x2="969.5" y2="118.5"/>
<line x1="573.5" y1="168.5" x2="969.5" y2="168.5"/>
<line x1="573.5" y1="218.5" x2="969.5" y2="218.5"/>
<line x1="573.5" y1="268.5" x2="969.5" y2="268.5"/>
<line x1="573.5" y1="317.5" x2="969.5" y2="317.5"/>
<line x1="573.5" y1="367.5" x2="969.5" y2="367.5"/>
<line x1="573.5" y1="417.5" x2="969.5" y2="417.5"/>
<line x1="573.5" y1="467.5" x2="969.5" y2="467.5"/>
<line x1="573.5" y1="517.5" x2="969.5" y2="517.5"/>
<line x1="573.5" y1="567.5" x2="969.5" y2="567.5"/>
<line x1="573.5" y1="616.5" x2="969.5" y2="616.5"/>
<line x1="573.5" y1="666.5" x2="969.5" y2="666.5"/>
<line x1="573.5" y1="716.5" x2="969.5" y2="716.5"/>
<line x1="573.5" y1="766.5" x2="969.5" y2="766.5"/>
</g>
<g clip-path="url(#c1)">
<g fill="#00ffff">
<circle cx="709.8" cy="28.2" r="3.4"/><circle cx="709.8" cy="31.5" r="3.4"/><circle cx="709.8" cy="32.7" r="3.4"/><circle cx="709.8" cy="35.1" r="3.4"/><circle cx="709.8" cy="37.1" r="3.4"/><circle cx="709.8" cy="40.4" r="3.4"/><circle cx="709.8" cy="43" r="3.4"/><circle cx="709.8" cy="43.7" r="3.4"/><circle cx="709.8" cy="46.4" r="3.4"/><circle cx="709.8" cy="49.6" r="3.4"/><circle cx="709.9" cy="50.8" r="3.4"/><circle cx="709.9" cy="54.1" r="3.4"/><circle cx="710" cy="54.5" r="3.4"/><circle cx="710.1" cy="57.4" r="3.4"/><circle cx="710.1" cy="60.6" r="3.4"/><circle cx="710.2" cy="63" r="3.4"/><circle cx="710.3" cy="63.9" r="3.4"/><circle cx="710.3" cy="67.3" r="3.4"/><circle cx="710.4" cy="67.7" r="3.4"/><circle cx="710.7" cy="70.7" r="3.4"/><circle cx="711" cy="72.8" r="3.4"/><circle cx="711.3" cy="74.3" r="3.4"/><circle cx="711.6" cy="77.2" r="3.4"/><circle cx="711.9" cy="79" r="3.4"/><circle cx="712.2" cy="81.4" r="3.4"/><circle cx="712.5" cy="84.8" r="3.4"/><circle cx="712.8" cy="86.3" r="3.4"/><circle cx="896.6" cy="128.4" r="3.4"/><circle cx="898.7" cy="131.5" r="3.4"/><circle cx="897.6" cy="132.6" r="3.4"/><circle cx="902.1" cy="134.2" r="3.4"/><circle cx="899" cy="138" r="3.4"/><circle cx="901.4" cy="138.6" r="3.4"/><circle cx="896.7" cy="140.9" r="3.4"/><circle cx="902.4" cy="143.5" r="3.4"/><circle cx="901.4" cy="147" r="3.4"/><circle cx="898.8" cy="148" r="3.4"/><circle cx="902.2" cy="150.9" r="3.4"/><circle cx="897.3" cy="153.3" r="3.4"/><circle cx="897.1" cy="154.6" r="3.4"/><circle cx="894.5" cy="157.8" r="3.4"/><circle cx="899.8" cy="159.8" r="3.4"/><circle cx="899.5" cy="160.8" r="3.4"/><circle cx="894.4" cy="163.9" r="3.4"/><circle cx="898.5" cy="167" r="3.4"/><circle cx="894.3" cy="167.9" r="3.4"/><circle cx="894" cy="170.6" r="3.4"/><circle cx="896.6" cy="172.2" r="3.4"/><circle cx="895.3" cy="175.5" r="3.4"/><circle cx="894.8" cy="177.8" r="3.4"/><circle cx="892.9" cy="179.1" r="3.4"/><circle cx="890.5" cy="181.4" r="3.4"/><circle cx="892.9" cy="183" r="3.4"/><circle cx="888.6" cy="186.6" r="3.4"/><circle cx="888.3" cy="187.4" r="3.4"/><circle cx="884" cy="190.6" r="3.4"/><circle cx="882.8" cy="193.7" r="3.4"/><circle cx="883.4" cy="195.9" r="3.4"/><circle cx="876.4" cy="196.3" r="3.4"/><circle cx="872.4" cy="199.4" r="3.4"/><circle cx="873.3" cy="201.5" r="3.4"/><circle cx="867.2" cy="203.6" r="3.4"/><circle cx="866.7" cy="206.4" r="3.4"/><circle cx="864.5" cy="208.9" r="3.4"/><circle cx="866.8" cy="209.7" r="3.4"/><circle cx="870.8" cy="212.2" r="3.4"/><circle cx="871.8" cy="214.6" r="3.4"/><circle cx="875.8" cy="216.5" r="3.4"/><circle cx="875.4" cy="218.8" r="3.4"/><circle cx="877.7" cy="222.3" r="3.4"/><circle cx="883.2" cy="223.4" r="3.4"/><circle cx="884.9" cy="226.9" r="3.4"/><circle cx="888.4" cy="227.6" r="3.4"/><circle cx="890.7" cy="230.7" r="3.4"/><circle cx="892.3" cy="231.8" r="3.4"/><circle cx="889.3" cy="235.4" r="3.4"/><circle cx="892.1" cy="237.8" r="3.4"/><circle cx="887.3" cy="238.8" r="3.4"/><circle cx="888.2" cy="240.8" r="3.4"/><circle cx="894.1" cy="243.8" r="3.4"/><circle cx="894.2" cy="245.6" r="3.4"/><circle cx="894.2" cy="248" r="3.4"/><circle cx="890.1" cy="250.9" r="3.4"/><circle cx="894.3" cy="251.7" r="3.4"/><circle cx="891.8" cy="255" r="3.4"/><circle cx="889.2" cy="256.7" r="3.4"/><circle cx="888.5" cy="258.6" r="3.4"/><circle cx="889" cy="261.6" r="3.4"/><circle cx="891.3" cy="263" r="3.4"/><circle cx="887" cy="265.5" r="3.4"/><circle cx="891.1" cy="267.4" r="3.4"/><circle cx="887.8" cy="269.6" r="3.4"/><circle cx="890.1" cy="272.6" r="3.4"/><circle cx="884.5" cy="273.9" r="3.4"/><circle cx="885.7" cy="277" r="3.4"/><circle cx="886.4" cy="278.3" r="3.4"/><circle cx="882.5" cy="281.7" r="3.4"/><circle cx="883.1" cy="283.1" r="3.4"/><circle cx="881.6" cy="286.7" r="3.4"/><circle cx="880.7" cy="288.1" r="3.4"/><circle cx="881.2" cy="290" r="3.4"/><circle cx="884.6" cy="293.4" r="3.4"/><circle cx="881.6" cy="294" r="3.4"/><circle cx="884.1" cy="296.2" r="3.4"/><circle cx="879.7" cy="299.8" r="3.4"/><circle cx="882.5" cy="301.9" r="3.4"/><circle cx="882.6" cy="304.2" r="3.4"/><circle cx="883.1" cy="305" r="3.4"/><circle cx="880.4" cy="308" r="3.4"/><circle cx="884" cy="310.9" r="3.4"/><circle cx="880" cy="312.6" r="3.4"/><circle cx="881.4" cy="314.5" r="3.4"/><circle cx="879.5" cy="316.3" r="3.4"/><circle cx="881.5" cy="319.8" r="3.4"/><circle cx="878.4" cy="321.2" r="3.4"/><circle cx="882.5" cy="324.3" r="3.4"/><circle cx="878.1" cy="324.9" r="3.4"/><circle cx="882.5" cy="328.8" r="3.4"/><circle cx="878.9" cy="329.1" r="3.4"/><circle cx="881.1" cy="332" r="3.4"/><circle cx="880.3" cy="334.7" r="3.4"/><circle cx="879.1" cy="336" r="3.4"/><circle cx="878.2" cy="338.3" r="3.4"/><circle cx="875.2" cy="341.8" r="3.4"/><circle cx="877.2" cy="342.7" r="3.4"/><circle cx="872.7" cy="345.3" r="3.4"/><circle cx="874" cy="347.5" r="3.4"/><circle cx="870.5" cy="349.5" r="3.4"/><circle cx="873.5" cy="353" r="3.4"/><circle cx="868.3" cy="354.5" r="3.4"/><circle cx="872" cy="355.7" r="3.4"/><circle cx="871.6" cy="358.1" r="3.4"/><circle cx="869.2" cy="361.2" r="3.4"/><circle cx="868.5" cy="362.9" r="3.4"/><circle cx="866.3" cy="365.6" r="3.4"/><circle cx="865.5" cy="368" r="3.4"/><circle cx="864.6" cy="369.8" r="3.4"/><circle cx="860.9" cy="372.4" r="3.4"/><circle cx="862.9" cy="373.8" r="3.4"/><circle cx="863.7" cy="377.1" r="3.4"/><circle cx="860.8" cy="378.1" r="3.4"/><circle cx="859.9" cy="380.2" r="3.4"/><circle cx="856.7" cy="383.1" r="3.4"/><circle cx="855.5" cy="385.3" r="3.4"/><circle cx="857.2" cy="386.7" r="3.4"/><circle cx="855.8" cy="389" r="3.4"/><circle cx="854.1" cy="392.6" r="3.4"/><circle cx="850.4" cy="393.4" r="3.4"/><circle cx="848.1" cy="396.2" r="3.4"/><circle cx="848.7" cy="398" r="3.4"/><circle cx="845.9" cy="401.9" r="3.4"/><circle cx="842.8" cy="403.8" r="3.4"/><circle cx="837.1" cy="406.3" r="3.4"/><circle cx="836.8" cy="408.5" r="3.4"/><circle cx="836.4" cy="409.1" r="3.4"/><circle cx="832.5" cy="412.9" r="3.4"/><circle cx="824.7" cy="413.9" r="3.4"/><circle cx="826" cy="415.7" r="3.4"/><circle cx="823.8" cy="418.2" r="3.4"/><circle cx="820.2" cy="420.1" r="3.4"/><circle cx="815.1" cy="423.9" r="3.4"/><circle cx="810.1" cy="424.8" r="3.4"/><circle cx="808.9" cy="427.1" r="3.4"/><circle cx="803.2" cy="429.1" r="3.4"/><circle cx="801.4" cy="432.8" r="3.4"/><circle cx="802" cy="434.9" r="3.4"/><circle cx="796.1" cy="436.9" r="3.4"/><circle cx="793.1" cy="438.6" r="3.4"/><circle cx="793.8" cy="440.5" r="3.4"/><circle cx="792.6" cy="443.1" r="3.4"/><circle cx="788.1" cy="446" r="3.4"/><circle cx="782.4" cy="448.4" r="3.4"/><circle cx="782.7" cy="449.4" r="3.4"/><circle cx="780.7" cy="451.4" r="3.4"/><circle cx="778.8" cy="454.2" r="3.4"/><circle cx="771.7" cy="456.8" r="3.4"/><circle cx="769.2" cy="457.9" r="3.4"/><circle cx="768" cy="459.8" r="3.4"/><circle cx="765.4" cy="462.4" r="3.4"/><circle cx="761.2" cy="466.1" r="3.4"/><circle cx="757.8" cy="467.7" r="3.4"/><circle cx="752.2" cy="468.6" r="3.4"/><circle cx="746.6" cy="471.1" r="3.4"/><circle cx="746.5" cy="473.9" r="3.4"/><circle cx="742" cy="477" r="3.4"/><circle cx="735.8" cy="477.9" r="3.4"/><circle cx="735.3" cy="479.7" r="3.4"/><circle cx="727.3" cy="482.6" r="3.4"/><circle cx="724.1" cy="484.8" r="3.4"/><circle cx="721.1" cy="487.5" r="3.4"/><circle cx="720.2" cy="488.9" r="3.4"/><circle cx="717.1" cy="491.7" r="3.4"/><circle cx="710.8" cy="494.8" r="3.4"/><circle cx="708.2" cy="495.5" r="3.4"/><circle cx="704" cy="498.6" r="3.4"/><circle cx="705.7" cy="501.2" r="3.4"/><circle cx="699.5" cy="502.3" r="3.4"/><circle cx="693.8" cy="505.3" r="3.4"/><circle cx="694" cy="506.9" r="3.4"/><circle cx="692.6" cy="509.3" r="3.4"/><circle cx="692.5" cy="512.1" r="3.4"/><circle cx="686.1" cy="514.7" r="3.4"/><circle cx="682.8" cy="516.2" r="3.4"/><circle cx="683.1" cy="517.8" r="3.4"/><circle cx="678.9" cy="521.1" r="3.4"/><circle cx="676.7" cy="522.8" r="3.4"/><circle cx="680.6" cy="524.2" r="3.4"/><circle cx="673.9" cy="527.4" r="3.4"/><circle cx="673.3" cy="529.7" r="3.4"/><circle cx="672.6" cy="530.9" r="3.4"/><circle cx="666.8" cy="533.4" r="3.4"/><circle cx="662.6" cy="536.8" r="3.4"/><circle cx="664.7" cy="538.7" r="3.4"/><circle cx="657.1" cy="541.1" r="3.4"/><circle cx="659.2" cy="542.6" r="3.4"/><circle cx="656.6" cy="544.8" r="3.4"/><circle cx="650.7" cy="546.3" r="3.4"/><circle cx="650.2" cy="548.4" r="3.4"/><circle cx="650.4" cy="552" r="3.4"/><circle cx="652.2" cy="554.4" r="3.4"/><circle cx="651.8" cy="555.5" r="3.4"/><circle cx="650.3" cy="558" r="3.4"/><circle cx="651.3" cy="560.4" r="3.4"/><circle cx="647.4" cy="562.9" r="3.4"/><circle cx="651.4" cy="564.3" r="3.4"/><circle cx="650.4" cy="566.1" r="3.4"/><circle cx="646" cy="568.7" r="3.4"/><circle cx="648.6" cy="572.4" r="3.4"/><circle cx="648.1" cy="573.3" r="3.4"/><circle cx="648.6" cy="575.6" r="3.4"/><circle cx="644" cy="578.9" r="3.4"/><circle cx="646" cy="580.7" r="3.4"/><circle cx="645.8" cy="583.5" r="3.4"/><circle cx="644.1" cy="585.4" r="3.4"/><circle cx="645.1" cy="587.7" r="3.4"/><circle cx="644.2" cy="589.6" r="3.4"/><circle cx="645.8" cy="591" r="3.4"/><circle cx="644.3" cy="593.9" r="3.4"/><circle cx="644.2" cy="596.7" r="3.4"/><circle cx="645.5" cy="597.1" r="3.4"/><circle cx="646" cy="601.1" r="3.4"/><circle cx="648.3" cy="601.8" r="3.4"/><circle cx="647" cy="603.8" r="3.4"/><circle cx="652.1" cy="607.2" r="3.4"/><circle cx="652.8" cy="609.6" r="3.4"/><circle cx="649.4" cy="611.5" r="3.4"/><circle cx="652" cy="614.2" r="3.4"/><circle cx="655.6" cy="616.5" r="3.4"/><circle cx="651.5" cy="618.7" r="3.4"/><circle cx="657.6" cy="621.1" r="3.4"/><circle cx="653.1" cy="621.8" r="3.4"/><circle cx="653.8" cy="623.7" r="3.4"/><circle cx="659.2" cy="627.5" r="3.4"/><circle cx="657.8" cy="629.7" r="3.4"/><circle cx="657.8" cy="630.8" r="3.4"/><circle cx="654.4" cy="632.7" r="3.4"/><circle cx="658.6" cy="635.1" r="3.4"/><circle cx="655.8" cy="637.8" r="3.4"/><circle cx="653.9" cy="639.6" r="3.4"/><circle cx="655.5" cy="642.8" r="3.4"/><circle cx="656.1" cy="644.2" r="3.4"/><circle cx="659.9" cy="646.8" r="3.4"/><circle cx="660.2" cy="649.2" r="3.4"/><circle cx="656" cy="651" r="3.4"/><circle cx="659.6" cy="654" r="3.4"/><circle cx="660.1" cy="656" r="3.4"/><circle cx="662.3" cy="657.3" r="3.4"/><circle cx="665.5" cy="659.2" r="3.4"/><circle cx="666.2" cy="661.6" r="3.4"/><circle cx="662" cy="663.9" r="3.4"/><circle cx="667.9" cy="667.7" r="3.4"/><circle cx="663.4" cy="668.9" r="3.4"/><circle cx="666.8" cy="671.7" r="3.4"/><circle cx="665.1" cy="673.3" r="3.4"/><circle cx="666.5" cy="676.2" r="3.4"/><circle cx="666.2" cy="678.7" r="3.4"/><circle cx="666.7" cy="679.4" r="3.4"/><circle cx="669.6" cy="682.2" r="3.4"/><circle cx="666.1" cy="684.7" r="3.4"/><circle cx="666.3" cy="687.2" r="3.4"/><circle cx="670.8" cy="689.4" r="3.4"/><circle cx="670.9" cy="690.8" r="3.4"/><circle cx="670" cy="693.1" r="3.4"/><circle cx="673.7" cy="694.7" r="3.4"/><circle cx="674.3" cy="696.8" r="3.4"/><circle cx="670.5" cy="699.5" r="3.4"/><circle cx="675.5" cy="702.1" r="3.4"/><circle cx="672.7" cy="705.1" r="3.4"/><circle cx="672.3" cy="706.5" r="3.4"/><circle cx="674.8" cy="709.3" r="3.4"/><circle cx="676.8" cy="711.3" r="3.4"/><circle cx="674.7" cy="712.9" r="3.4"/><circle cx="674.1" cy="716.1" r="3.4"/><circle cx="677.9" cy="718.1" r="3.4"/><circle cx="675.3" cy="719.7" r="3.4"/><circle cx="679.7" cy="722.2" r="3.4"/><circle cx="676.1" cy="724.2" r="3.4"/><circle cx="681.5" cy="726" r="3.4"/><circle cx="677.6" cy="728.3" r="3.4"/><circle cx="681.4" cy="731.6" r="3.4"/><circle cx="678.5" cy="732.5" r="3.4"/><circle cx="679.6" cy="735" r="3.4"/><circle cx="681.9" cy="736.9" r="3.4"/><circle cx="681.2" cy="739.2" r="3.4"/><circle cx="685.9" cy="742.5" r="3.4"/><circle cx="680.8" cy="745.2" r="3.4"/><circle cx="681.4" cy="746.2" r="3.4"/><circle cx="687" cy="749.2" r="3.4"/><circle cx="685.4" cy="750.7" r="3.4"/><circle cx="682" cy="753.4" r="3.4"/><circle cx="681.4" cy="754.7" r="3.4"/><circle cx="683.2" cy="756.6" r="3.4"/><circle cx="683.3" cy="760.3" r="3.4"/><circle cx="685.2" cy="761.9" r="3.4"/><circle cx="684.8" cy="764.1" r="3.4"/><circle cx="681.6" cy="766.6" r="3.4"/><circle cx="682.7" cy="769.1" r="3.4"/><circle cx="685.2" cy="770.7" r="3.4"/><circle cx="682.4" cy="773.5" r="3.4"/><circle cx="680.8" cy="774.7" r="3.4"/><circle cx="682" cy="778.2" r="3.4"/><circle cx="681.7" cy="780.1" r="3.4"/><circle cx="681.5" cy="782.2" r="3.4"/><circle cx="679.5" cy="784" r="3.4"/><circle cx="676.7" cy="786.6" r="3.4"/><circle cx="675.9" cy="788.4" r="3.4"/><circle cx="680.8" cy="791.2" r="3.4"/><circle cx="680.3" cy="792.5" r="3.4"/><circle cx="679.5" cy="795.1" r="3.4"/><circle cx="681.3" cy="797.2" r="3.4"/><circle cx="682.2" cy="800.5" r="3.4"/><circle cx="679.6" cy="802.1" r="3.4"/><circle cx="683.9" cy="803.8" r="3.4"/><circle cx="715" cy="94.2" r="3.4"/><circle cx="718.9" cy="99.3" r="3.4"/><circle cx="721.5" cy="101.9" r="3.4"/><circle cx="723.7" cy="105.7" r="3.4"/><circle cx="736.5" cy="106.4" r="3.4"/><circle cx="762.6" cy="108.3" r="3.4"/><circle cx="824.9" cy="111.5" r="3.4"/><circle cx="870.5" cy="113.4" r="3.4"/><circle cx="881.4" cy="116" r="3.4"/><circle cx="886.6" cy="119.2" r="3.4"/><circle cx="890.4" cy="121.8" r="3.4"/><circle cx="895.6" cy="123.1" r="3.4"/><circle cx="905.9" cy="127.6" r="3.4"/><circle cx="712.5" cy="90.5" r="3.4"/><circle cx="901.5" cy="125.4" r="3.4"/>
</g>
<polyline fill="none" stroke="#ff0000" stroke-width="8" stroke-linejoin="round" stroke-linecap="butt" points="804.6,18.9 804.6,22.8 804.6,26.8 804.6,30.8 804.6,34.8 804.6,38.8 804.6,42.8 804.6,48.8 804.6,58.7 804.6,68.7 804.6,78.7 804.6,88.6 804.6,98.6 804.6,108.6 804.6,118.5 804.7,138.5 807.6,158.4 843.5,178.3 875,198.3 872.4,218.2 858.3,268 846.1,317.9 799.2,417.5 705.1,517.2 643.7,616.9 640.4,716.5 648.5,816.2"/>
<polyline fill="none" stroke="#0000ff" stroke-width="2.6" stroke-linejoin="round" stroke-linecap="butt" points="709.8,28.8 709.8,48.8 710.4,68.7 713.1,88.6 784.4,108.6 898,128.5 898.4,148.4 893.6,168.4 888.5,188.3 861.5,208.2 886.9,228.2 890.4,248.1 888.5,268 880.5,288 882.1,307.9 878.2,327.8 872.4,347.8 864.5,367.7 855.7,387.6 835.4,407.6 807.4,427.5 783.5,447.4 755.8,467.4 721.4,487.3 692.2,507.2 674.4,527.2 651,547.1 646.5,567 642.4,587 649.4,606.9 655.5,626.8 655.5,646.8 664.8,666.7 667.5,686.6 672.6,706.6 677.6,726.5 682.5,746.4 682.5,766.4 676.5,786.3 681.2,806.2"/>
<g fill="#0000ff">
<circle cx="709.8" cy="28.8" r="6.1"/><circle cx="709.8" cy="48.8" r="6.1"/><circle cx="710.4" cy="68.7" r="6.1"/><circle cx="713.1" cy="88.6" r="6.1"/><circle cx="784.4" cy="108.6" r="6.1"/><circle cx="898" cy="128.5" r="6.1"/><circle cx="898.4" cy="148.4" r="6.1"/><circle cx="893.6" cy="168.4" r="6.1"/><circle cx="888.5" cy="188.3" r="6.1"/><circle cx="861.5" cy="208.2" r="6.1"/><circle cx="886.9" cy="228.2" r="6.1"/><circle cx="890.4" cy="248.1" r="6.1"/><circle cx="888.5" cy="268" r="6.1"/><circle cx="880.5" cy="288" r="6.1"/><circle cx="882.1" cy="307.9" r="6.1"/><circle cx="878.2" cy="327.8" r="6.1"/><circle cx="872.4" cy="347.8" r="6.1"/><circle cx="864.5" cy="367.7" r="6.1"/><circle cx="855.7" cy="387.6" r="6.1"/><circle cx="835.4" cy="407.6" r="6.1"/><circle cx="807.4" cy="427.5" r="6.1"/><circle cx="783.5" cy="447.4" r="6.1"/><circle cx="755.8" cy="467.4" r="6.1"/><circle cx="721.4" cy="487.3" r="6.1"/><circle cx="692.2" cy="507.2" r="6.1"/><circle cx="674.4" cy="527.2" r="6.1"/><circle cx="651" cy="547.1" r="6.1"/><circle cx="646.5" cy="567" r="6.1"/><circle cx="642.4" cy="587" r="6.1"/><circle cx="649.4" cy="606.9" r="6.1"/><circle cx="655.5" cy="626.8" r="6.1"/><circle cx="655.5" cy="646.8" r="6.1"/><circle cx="664.8" cy="666.7" r="6.1"/><circle cx="667.5" cy="686.6" r="6.1"/><circle cx="672.6" cy="706.6" r="6.1"/><circle cx="677.6" cy="726.5" r="6.1"/><circle cx="682.5" cy="746.4" r="6.1"/><circle cx="682.5" cy="766.4" r="6.1"/><circle cx="676.5" cy="786.3" r="6.1"/><circle cx="681.2" cy="806.2" r="6.1"/>
</g>
<polyline fill="none" stroke="#ff0000" stroke-width="2.4" stroke-linejoin="round" stroke-linecap="butt" points="804.6,18.9 804.6,22.8 804.6,26.8 804.6,30.8 804.6,34.8 804.6,38.8 804.6,42.8 804.6,48.8 804.6,58.7 804.6,68.7 804.6,78.7 804.6,88.6 804.6,98.6 804.6,108.6 804.6,118.5 804.7,138.5 807.6,158.4 843.5,178.3 875,198.3 872.4,218.2 858.3,268 846.1,317.9 799.2,417.5 705.1,517.2 643.7,616.9 640.4,716.5 648.5,816.2"/>
<g fill="#ff0000">
<circle cx="804.6" cy="18.9" r="6.2"/><circle cx="804.6" cy="22.8" r="6.2"/><circle cx="804.6" cy="26.8" r="6.2"/><circle cx="804.6" cy="30.8" r="6.2"/><circle cx="804.6" cy="34.8" r="6.2"/><circle cx="804.6" cy="38.8" r="6.2"/><circle cx="804.6" cy="42.8" r="6.2"/><circle cx="804.6" cy="48.8" r="6.2"/><circle cx="804.6" cy="58.7" r="6.2"/><circle cx="804.6" cy="68.7" r="6.2"/><circle cx="804.6" cy="78.7" r="6.2"/><circle cx="804.6" cy="88.6" r="6.2"/><circle cx="804.6" cy="98.6" r="6.2"/><circle cx="804.6" cy="108.6" r="6.2"/><circle cx="804.6" cy="118.5" r="6.2"/><circle cx="804.7" cy="138.5" r="6.2"/><circle cx="807.6" cy="158.4" r="6.2"/><circle cx="843.5" cy="178.3" r="6.2"/><circle cx="875" cy="198.3" r="6.2"/><circle cx="872.4" cy="218.2" r="6.2"/><circle cx="858.3" cy="268" r="6.2"/><circle cx="846.1" cy="317.9" r="6.2"/><circle cx="799.2" cy="417.5" r="6.2"/><circle cx="705.1" cy="517.2" r="6.2"/><circle cx="643.7" cy="616.9" r="6.2"/><circle cx="640.4" cy="716.5" r="6.2"/><circle cx="648.5" cy="816.2" r="6.2"/>
</g>
<polyline fill="none" stroke="#008000" stroke-width="2.5" stroke-linejoin="round" stroke-linecap="butt" points="818.5,18.9 818.5,22.8 818.5,26.8 818.5,30.8 818.5,34.8 818.5,38.8 818.5,42.8 818.5,48.8 818.5,58.7 818.5,68.7 818.5,78.7 818.5,88.6 818.5,98.6 818.5,108.6 818.5,118.5 818.9,138.5 821.3,158.4 826.5,178.3 831.6,198.3 838.7,218.2 867.3,268 867.3,317.9 746.5,417.5 689.3,517.2 664.5,616.9 660,716.5 662.2,816.2"/>
<g fill="#008000">
<circle cx="818.5" cy="18.9" r="6.2"/><circle cx="818.5" cy="22.8" r="6.2"/><circle cx="818.5" cy="26.8" r="6.2"/><circle cx="818.5" cy="30.8" r="6.2"/><circle cx="818.5" cy="34.8" r="6.2"/><circle cx="818.5" cy="38.8" r="6.2"/><circle cx="818.5" cy="42.8" r="6.2"/><circle cx="818.5" cy="48.8" r="6.2"/><circle cx="818.5" cy="58.7" r="6.2"/><circle cx="818.5" cy="68.7" r="6.2"/><circle cx="818.5" cy="78.7" r="6.2"/><circle cx="818.5" cy="88.6" r="6.2"/><circle cx="818.5" cy="98.6" r="6.2"/><circle cx="818.5" cy="108.6" r="6.2"/><circle cx="818.5" cy="118.5" r="6.2"/><circle cx="818.9" cy="138.5" r="6.2"/><circle cx="821.3" cy="158.4" r="6.2"/><circle cx="826.5" cy="178.3" r="6.2"/><circle cx="831.6" cy="198.3" r="6.2"/><circle cx="838.7" cy="218.2" r="6.2"/><circle cx="867.3" cy="268" r="6.2"/><circle cx="867.3" cy="317.9" r="6.2"/><circle cx="746.5" cy="417.5" r="6.2"/><circle cx="689.3" cy="517.2" r="6.2"/><circle cx="664.5" cy="616.9" r="6.2"/><circle cx="660" cy="716.5" r="6.2"/><circle cx="662.2" cy="816.2" r="6.2"/>
</g>
<polyline fill="none" stroke="#ff00ff" stroke-width="2.5" stroke-linejoin="round" stroke-linecap="butt" points="708.6,19.8 708.6,21.9 708.6,24.1 708.6,26.5 708.6,29 708.6,31.7 708.6,34.7 708.6,37.9 708.6,41.6 708.6,45.7 708.6,50.4 708.6,55.7 708.6,61.9 708.6,69.1 708.6,77.5 708.6,87.5 709.3,99.3 713.5,113.3 770.7,130 847.8,150 851.5,174 850.6,202.9 875.3,237.6 890.7,279.3 885.6,329.5 841.6,389.9 759,462.3 661.6,549.2 639.5,653 669.7,776.8"/>
<g fill="#ff00ff">
<circle cx="708.6" cy="19.8" r="6.2"/><circle cx="708.6" cy="21.9" r="6.2"/><circle cx="708.6" cy="24.1" r="6.2"/><circle cx="708.6" cy="26.5" r="6.2"/><circle cx="708.6" cy="29" r="6.2"/><circle cx="708.6" cy="31.7" r="6.2"/><circle cx="708.6" cy="34.7" r="6.2"/><circle cx="708.6" cy="37.9" r="6.2"/><circle cx="708.6" cy="41.6" r="6.2"/><circle cx="708.6" cy="45.7" r="6.2"/><circle cx="708.6" cy="50.4" r="6.2"/><circle cx="708.6" cy="55.7" r="6.2"/><circle cx="708.6" cy="61.9" r="6.2"/><circle cx="708.6" cy="69.1" r="6.2"/><circle cx="708.6" cy="77.5" r="6.2"/><circle cx="708.6" cy="87.5" r="6.2"/><circle cx="709.3" cy="99.3" r="6.2"/><circle cx="713.5" cy="113.3" r="6.2"/><circle cx="770.7" cy="130" r="6.2"/><circle cx="847.8" cy="150" r="6.2"/><circle cx="851.5" cy="174" r="6.2"/><circle cx="850.6" cy="202.9" r="6.2"/><circle cx="875.3" cy="237.6" r="6.2"/><circle cx="890.7" cy="279.3" r="6.2"/><circle cx="885.6" cy="329.5" r="6.2"/><circle cx="841.6" cy="389.9" r="6.2"/><circle cx="759" cy="462.3" r="6.2"/><circle cx="661.6" cy="549.2" r="6.2"/><circle cx="639.5" cy="653" r="6.2"/><circle cx="669.7" cy="776.8" r="6.2"/>
</g>
</g>
<rect x="573.5" y="19.4" width="396" height="794.9" fill="none" stroke="#000" stroke-width="1.4"/>
<g stroke="#000" stroke-width="1.3">
<line x1="615.5" y1="814.3" x2="615.5" y2="820.6"/>
<line x1="679.5" y1="814.3" x2="679.5" y2="820.6"/>
<line x1="744.5" y1="814.3" x2="744.5" y2="820.6"/>
<line x1="808.5" y1="814.3" x2="808.5" y2="820.6"/>
<line x1="873.5" y1="814.3" x2="873.5" y2="820.6"/>
<line x1="938.5" y1="814.3" x2="938.5" y2="820.6"/>
<line x1="567.2" y1="19.4" x2="573.5" y2="19.4"/>
<line x1="567.2" y1="68.5" x2="573.5" y2="68.5"/>
<line x1="567.2" y1="118.5" x2="573.5" y2="118.5"/>
<line x1="567.2" y1="168.5" x2="573.5" y2="168.5"/>
<line x1="567.2" y1="218.5" x2="573.5" y2="218.5"/>
<line x1="567.2" y1="268.5" x2="573.5" y2="268.5"/>
<line x1="567.2" y1="317.5" x2="573.5" y2="317.5"/>
<line x1="567.2" y1="367.5" x2="573.5" y2="367.5"/>
<line x1="567.2" y1="417.5" x2="573.5" y2="417.5"/>
<line x1="567.2" y1="467.5" x2="573.5" y2="467.5"/>
<line x1="567.2" y1="517.5" x2="573.5" y2="517.5"/>
<line x1="567.2" y1="567.5" x2="573.5" y2="567.5"/>
<line x1="567.2" y1="616.5" x2="573.5" y2="616.5"/>
<line x1="567.2" y1="666.5" x2="573.5" y2="666.5"/>
<line x1="567.2" y1="716.5" x2="573.5" y2="716.5"/>
<line x1="567.2" y1="766.5" x2="573.5" y2="766.5"/>
</g>
<text x="614" y="841.4" font-size="17.7" text-anchor="middle" textLength="47.7" lengthAdjust="spacingAndGlyphs" stroke="#000" stroke-width="0.2">34.00</text>
<text x="678.6" y="841.4" font-size="17.7" text-anchor="middle" textLength="47.7" lengthAdjust="spacingAndGlyphs" stroke="#000" stroke-width="0.2">34.25</text>
<text x="743.2" y="841.4" font-size="17.7" text-anchor="middle" textLength="47.7" lengthAdjust="spacingAndGlyphs" stroke="#000" stroke-width="0.2">34.50</text>
<text x="807.8" y="841.4" font-size="17.7" text-anchor="middle" textLength="47.7" lengthAdjust="spacingAndGlyphs" stroke="#000" stroke-width="0.2">34.75</text>
<text x="872.4" y="841.4" font-size="17.7" text-anchor="middle" textLength="47.7" lengthAdjust="spacingAndGlyphs" stroke="#000" stroke-width="0.2">35.00</text>
<text x="937" y="841.4" font-size="17.7" text-anchor="middle" textLength="47.7" lengthAdjust="spacingAndGlyphs" stroke="#000" stroke-width="0.2">35.25</text>
<g stroke="#b4b4b4" stroke-width="1" stroke-dasharray="3.2 1.4" fill="none">
<line x1="1106.5" y1="19.4" x2="1106.5" y2="814.3"/>
<line x1="1187.5" y1="19.4" x2="1187.5" y2="814.3"/>
<line x1="1267.5" y1="19.4" x2="1267.5" y2="814.3"/>
<line x1="1347.5" y1="19.4" x2="1347.5" y2="814.3"/>
<line x1="1427.5" y1="19.4" x2="1427.5" y2="814.3"/>
<line x1="1059.5" y1="68.5" x2="1454.7" y2="68.5"/>
<line x1="1059.5" y1="118.5" x2="1454.7" y2="118.5"/>
<line x1="1059.5" y1="168.5" x2="1454.7" y2="168.5"/>
<line x1="1059.5" y1="218.5" x2="1454.7" y2="218.5"/>
<line x1="1059.5" y1="268.5" x2="1454.7" y2="268.5"/>
<line x1="1059.5" y1="317.5" x2="1454.7" y2="317.5"/>
<line x1="1059.5" y1="367.5" x2="1454.7" y2="367.5"/>
<line x1="1059.5" y1="417.5" x2="1454.7" y2="417.5"/>
<line x1="1059.5" y1="467.5" x2="1454.7" y2="467.5"/>
<line x1="1059.5" y1="517.5" x2="1454.7" y2="517.5"/>
<line x1="1059.5" y1="567.5" x2="1454.7" y2="567.5"/>
<line x1="1059.5" y1="616.5" x2="1454.7" y2="616.5"/>
<line x1="1059.5" y1="666.5" x2="1454.7" y2="666.5"/>
<line x1="1059.5" y1="716.5" x2="1454.7" y2="716.5"/>
<line x1="1059.5" y1="766.5" x2="1454.7" y2="766.5"/>
</g>
<g clip-path="url(#c2)">
<g fill="#00ffff">
<circle cx="1067" cy="29.8" r="3.4"/><circle cx="1067" cy="31.1" r="3.4"/><circle cx="1067.1" cy="33.8" r="3.4"/><circle cx="1067.1" cy="35.5" r="3.4"/><circle cx="1067.1" cy="37.8" r="3.4"/><circle cx="1067.2" cy="40.3" r="3.4"/><circle cx="1067.2" cy="42.4" r="3.4"/><circle cx="1067.2" cy="44.4" r="3.4"/><circle cx="1067.3" cy="47.4" r="3.4"/><circle cx="1067.3" cy="49.1" r="3.4"/><circle cx="1067.4" cy="51.5" r="3.4"/><circle cx="1067.5" cy="54.1" r="3.4"/><circle cx="1067.6" cy="54.5" r="3.4"/><circle cx="1067.7" cy="57.4" r="3.4"/><circle cx="1067.9" cy="59.7" r="3.4"/><circle cx="1068" cy="62.4" r="3.4"/><circle cx="1068.1" cy="63.8" r="3.4"/><circle cx="1068.2" cy="67" r="3.4"/><circle cx="1068.3" cy="68.7" r="3.4"/><circle cx="1068.4" cy="71.5" r="3.4"/><circle cx="1068.6" cy="72.5" r="3.4"/><circle cx="1068.7" cy="75.9" r="3.4"/><circle cx="1068.8" cy="77.8" r="3.4"/><circle cx="1069" cy="79.9" r="3.4"/><circle cx="1069.1" cy="82.9" r="3.4"/><circle cx="1069.2" cy="84.5" r="3.4"/><circle cx="1069.4" cy="87" r="3.4"/><circle cx="1070" cy="88.2" r="3.4"/><circle cx="1070.9" cy="90.1" r="3.4"/><circle cx="1072.3" cy="92.8" r="3.4"/><circle cx="1073" cy="94.8" r="3.4"/><circle cx="1072.4" cy="97" r="3.4"/><circle cx="1073.2" cy="99.1" r="3.4"/><circle cx="1072.8" cy="102.4" r="3.4"/><circle cx="1074.2" cy="103.6" r="3.4"/><circle cx="1074.9" cy="106.3" r="3.4"/><circle cx="1075.9" cy="108.8" r="3.4"/><circle cx="1077.3" cy="110.5" r="3.4"/><circle cx="1078.8" cy="113.7" r="3.4"/><circle cx="1077.3" cy="115.9" r="3.4"/><circle cx="1080.3" cy="118" r="3.4"/><circle cx="1079.2" cy="120.3" r="3.4"/><circle cx="1081.2" cy="120.9" r="3.4"/><circle cx="1080.4" cy="125" r="3.4"/><circle cx="1082.9" cy="125.8" r="3.4"/><circle cx="1082.2" cy="127.8" r="3.4"/><circle cx="1082.6" cy="131.3" r="3.4"/><circle cx="1083" cy="132.2" r="3.4"/><circle cx="1084.5" cy="135.7" r="3.4"/><circle cx="1082.6" cy="138.1" r="3.4"/><circle cx="1083.8" cy="140.1" r="3.4"/><circle cx="1084" cy="142.6" r="3.4"/><circle cx="1084.3" cy="144.7" r="3.4"/><circle cx="1082.9" cy="146.6" r="3.4"/><circle cx="1083.8" cy="148.9" r="3.4"/><circle cx="1083.6" cy="151.4" r="3.4"/><circle cx="1083.9" cy="152.4" r="3.4"/><circle cx="1083.1" cy="154.3" r="3.4"/><circle cx="1083.8" cy="156.4" r="3.4"/><circle cx="1083.8" cy="158.8" r="3.4"/><circle cx="1083.9" cy="161.7" r="3.4"/><circle cx="1084" cy="164.7" r="3.4"/><circle cx="1082.7" cy="166.8" r="3.4"/><circle cx="1083.9" cy="168.5" r="3.4"/><circle cx="1084.7" cy="171.3" r="3.4"/><circle cx="1084.1" cy="172.6" r="3.4"/><circle cx="1085.9" cy="174.2" r="3.4"/><circle cx="1085.3" cy="177.5" r="3.4"/><circle cx="1084" cy="179.6" r="3.4"/><circle cx="1085.9" cy="182.5" r="3.4"/><circle cx="1085.3" cy="184.8" r="3.4"/><circle cx="1086" cy="186" r="3.4"/><circle cx="1087.2" cy="187.4" r="3.4"/><circle cx="1087.4" cy="190.8" r="3.4"/><circle cx="1087.1" cy="193.4" r="3.4"/><circle cx="1087.8" cy="194.9" r="3.4"/><circle cx="1088.9" cy="197.7" r="3.4"/><circle cx="1088.7" cy="199.2" r="3.4"/><circle cx="1089.9" cy="201.7" r="3.4"/><circle cx="1091.6" cy="203.4" r="3.4"/><circle cx="1092.3" cy="205.8" r="3.4"/><circle cx="1092.1" cy="207.8" r="3.4"/><circle cx="1092.8" cy="211.4" r="3.4"/><circle cx="1093.9" cy="213.2" r="3.4"/><circle cx="1093.8" cy="214.5" r="3.4"/><circle cx="1094.4" cy="217.3" r="3.4"/><circle cx="1096" cy="219.9" r="3.4"/><circle cx="1095.2" cy="222" r="3.4"/><circle cx="1098.1" cy="223.8" r="3.4"/><circle cx="1096.6" cy="225.5" r="3.4"/><circle cx="1097.2" cy="227.5" r="3.4"/><circle cx="1099.9" cy="230.6" r="3.4"/><circle cx="1099.6" cy="233.2" r="3.4"/><circle cx="1100.7" cy="235" r="3.4"/><circle cx="1100.3" cy="237.3" r="3.4"/><circle cx="1100.8" cy="239.4" r="3.4"/><circle cx="1101.2" cy="240.9" r="3.4"/><circle cx="1101.5" cy="243.6" r="3.4"/><circle cx="1102.1" cy="245.1" r="3.4"/><circle cx="1101" cy="247.2" r="3.4"/><circle cx="1102.9" cy="251.1" r="3.4"/><circle cx="1103" cy="252.3" r="3.4"/><circle cx="1103.9" cy="255.3" r="3.4"/><circle cx="1103.6" cy="256.5" r="3.4"/><circle cx="1103.4" cy="259" r="3.4"/><circle cx="1103.8" cy="261.2" r="3.4"/><circle cx="1105.1" cy="264.5" r="3.4"/><circle cx="1104" cy="265.9" r="3.4"/><circle cx="1104.4" cy="267.3" r="3.4"/><circle cx="1106.8" cy="270.4" r="3.4"/><circle cx="1107.5" cy="272.3" r="3.4"/><circle cx="1105.6" cy="274.4" r="3.4"/><circle cx="1107.6" cy="277.8" r="3.4"/><circle cx="1109" cy="279.1" r="3.4"/><circle cx="1108" cy="280.5" r="3.4"/><circle cx="1109" cy="283" r="3.4"/><circle cx="1108.1" cy="284.8" r="3.4"/><circle cx="1108.2" cy="288.3" r="3.4"/><circle cx="1108.7" cy="291.1" r="3.4"/><circle cx="1108.8" cy="293.1" r="3.4"/><circle cx="1109.1" cy="293.6" r="3.4"/><circle cx="1110.9" cy="296.3" r="3.4"/><circle cx="1111.1" cy="298.4" r="3.4"/><circle cx="1109.5" cy="301.8" r="3.4"/><circle cx="1111.4" cy="304.2" r="3.4"/><circle cx="1111.7" cy="304.8" r="3.4"/><circle cx="1111.6" cy="308.3" r="3.4"/><circle cx="1111.4" cy="311" r="3.4"/><circle cx="1111" cy="313.3" r="3.4"/><circle cx="1112.4" cy="313.6" r="3.4"/><circle cx="1110.8" cy="317.1" r="3.4"/><circle cx="1113.1" cy="318.1" r="3.4"/><circle cx="1112" cy="321.6" r="3.4"/><circle cx="1111.8" cy="324.1" r="3.4"/><circle cx="1112.8" cy="324.7" r="3.4"/><circle cx="1112.7" cy="328" r="3.4"/><circle cx="1113.1" cy="330.4" r="3.4"/><circle cx="1112.5" cy="332.9" r="3.4"/><circle cx="1113.2" cy="334.8" r="3.4"/><circle cx="1114.1" cy="336.5" r="3.4"/><circle cx="1113.6" cy="339.5" r="3.4"/><circle cx="1115.2" cy="341.7" r="3.4"/><circle cx="1114.4" cy="342.9" r="3.4"/><circle cx="1113.3" cy="346.5" r="3.4"/><circle cx="1115.1" cy="348.4" r="3.4"/><circle cx="1114.4" cy="350.2" r="3.4"/><circle cx="1116.4" cy="352.9" r="3.4"/><circle cx="1115.7" cy="354" r="3.4"/><circle cx="1115.6" cy="357.4" r="3.4"/><circle cx="1115.8" cy="359.2" r="3.4"/><circle cx="1116.6" cy="361.8" r="3.4"/><circle cx="1117.5" cy="362.8" r="3.4"/><circle cx="1115.7" cy="365" r="3.4"/><circle cx="1117.1" cy="367.9" r="3.4"/><circle cx="1118.3" cy="370.7" r="3.4"/><circle cx="1116.5" cy="372.8" r="3.4"/><circle cx="1118.7" cy="375.1" r="3.4"/><circle cx="1118.3" cy="376.1" r="3.4"/><circle cx="1119.2" cy="379.4" r="3.4"/><circle cx="1119" cy="381.8" r="3.4"/><circle cx="1118.3" cy="382.4" r="3.4"/><circle cx="1119" cy="386" r="3.4"/><circle cx="1118.3" cy="388.1" r="3.4"/><circle cx="1120.4" cy="389.3" r="3.4"/><circle cx="1119.8" cy="392.4" r="3.4"/><circle cx="1119.7" cy="393.7" r="3.4"/><circle cx="1119.3" cy="397" r="3.4"/><circle cx="1121" cy="398.6" r="3.4"/><circle cx="1119.3" cy="401.5" r="3.4"/><circle cx="1121.3" cy="402.6" r="3.4"/><circle cx="1121.1" cy="406.1" r="3.4"/><circle cx="1122.1" cy="407.6" r="3.4"/><circle cx="1121.3" cy="410" r="3.4"/><circle cx="1120.8" cy="411.4" r="3.4"/><circle cx="1121.1" cy="414.6" r="3.4"/><circle cx="1121.8" cy="416.6" r="3.4"/><circle cx="1122.2" cy="418.7" r="3.4"/><circle cx="1121.8" cy="419.9" r="3.4"/><circle cx="1124.3" cy="422.8" r="3.4"/><circle cx="1122.3" cy="425.5" r="3.4"/><circle cx="1124.3" cy="426.8" r="3.4"/><circle cx="1124" cy="429.4" r="3.4"/><circle cx="1124" cy="431" r="3.4"/><circle cx="1122.9" cy="435.1" r="3.4"/><circle cx="1125.2" cy="436.3" r="3.4"/><circle cx="1124.6" cy="438.1" r="3.4"/><circle cx="1125.3" cy="440.6" r="3.4"/><circle cx="1125.9" cy="443.5" r="3.4"/><circle cx="1125.7" cy="446.1" r="3.4"/><circle cx="1124.4" cy="446.5" r="3.4"/><circle cx="1124.5" cy="449" r="3.4"/><circle cx="1124.4" cy="451" r="3.4"/><circle cx="1125.8" cy="454.8" r="3.4"/><circle cx="1125.7" cy="457.2" r="3.4"/><circle cx="1127" cy="457.6" r="3.4"/><circle cx="1126.4" cy="460.5" r="3.4"/><circle cx="1125.3" cy="463.9" r="3.4"/><circle cx="1125.9" cy="465.3" r="3.4"/><circle cx="1127.1" cy="468.3" r="3.4"/><circle cx="1127.4" cy="469.4" r="3.4"/><circle cx="1127" cy="471.1" r="3.4"/><circle cx="1128.6" cy="475" r="3.4"/><circle cx="1126.9" cy="475.3" r="3.4"/><circle cx="1127.3" cy="478.1" r="3.4"/><circle cx="1129.2" cy="481.5" r="3.4"/><circle cx="1129.3" cy="482" r="3.4"/><circle cx="1129.4" cy="485.5" r="3.4"/><circle cx="1129.3" cy="488.3" r="3.4"/><circle cx="1128.1" cy="488.8" r="3.4"/><circle cx="1130.2" cy="492.6" r="3.4"/><circle cx="1130.3" cy="493.5" r="3.4"/><circle cx="1130.4" cy="496.7" r="3.4"/><circle cx="1129.5" cy="498" r="3.4"/><circle cx="1130.2" cy="499.8" r="3.4"/><circle cx="1131.1" cy="502.1" r="3.4"/><circle cx="1130.8" cy="504.3" r="3.4"/><circle cx="1132.2" cy="506.3" r="3.4"/><circle cx="1132.6" cy="508.8" r="3.4"/><circle cx="1131.2" cy="512.5" r="3.4"/><circle cx="1132" cy="514.7" r="3.4"/><circle cx="1133.9" cy="516.9" r="3.4"/><circle cx="1132.3" cy="518.2" r="3.4"/><circle cx="1132.5" cy="521.4" r="3.4"/><circle cx="1134.8" cy="523" r="3.4"/><circle cx="1134.1" cy="524.6" r="3.4"/><circle cx="1135.3" cy="527.1" r="3.4"/><circle cx="1135.1" cy="528.7" r="3.4"/><circle cx="1134.3" cy="530.7" r="3.4"/><circle cx="1135.8" cy="533.9" r="3.4"/><circle cx="1134.6" cy="536.8" r="3.4"/><circle cx="1135.2" cy="538.1" r="3.4"/><circle cx="1135.1" cy="540" r="3.4"/><circle cx="1137.2" cy="542.3" r="3.4"/><circle cx="1135.7" cy="544.9" r="3.4"/><circle cx="1136.3" cy="547.9" r="3.4"/><circle cx="1136.4" cy="550.3" r="3.4"/><circle cx="1136.9" cy="552.3" r="3.4"/><circle cx="1139.1" cy="553.2" r="3.4"/><circle cx="1139.2" cy="555.5" r="3.4"/><circle cx="1139.3" cy="557.6" r="3.4"/><circle cx="1140.2" cy="561.4" r="3.4"/><circle cx="1142.4" cy="563.5" r="3.4"/><circle cx="1140.7" cy="564.4" r="3.4"/><circle cx="1143.4" cy="566.1" r="3.4"/><circle cx="1143.4" cy="568.8" r="3.4"/><circle cx="1144.4" cy="570.5" r="3.4"/><circle cx="1144.3" cy="573.4" r="3.4"/><circle cx="1143" cy="574.9" r="3.4"/><circle cx="1145.1" cy="578.2" r="3.4"/><circle cx="1143.8" cy="580.2" r="3.4"/><circle cx="1146.1" cy="582" r="3.4"/><circle cx="1145.6" cy="584" r="3.4"/><circle cx="1145" cy="587.5" r="3.4"/><circle cx="1146.6" cy="588.6" r="3.4"/><circle cx="1145.3" cy="590.6" r="3.4"/><circle cx="1147" cy="593.6" r="3.4"/><circle cx="1146.4" cy="595.2" r="3.4"/><circle cx="1147.6" cy="598.5" r="3.4"/><circle cx="1148.5" cy="600.4" r="3.4"/><circle cx="1147.2" cy="601.6" r="3.4"/><circle cx="1148.9" cy="604.5" r="3.4"/><circle cx="1149.2" cy="606" r="3.4"/><circle cx="1149.7" cy="608.8" r="3.4"/><circle cx="1150.1" cy="612.1" r="3.4"/><circle cx="1149.5" cy="612.6" r="3.4"/><circle cx="1150.9" cy="615.7" r="3.4"/><circle cx="1151.1" cy="617.5" r="3.4"/><circle cx="1149.6" cy="620.9" r="3.4"/><circle cx="1150.4" cy="621.7" r="3.4"/><circle cx="1150.7" cy="624.8" r="3.4"/><circle cx="1150.1" cy="626.9" r="3.4"/><circle cx="1151.5" cy="629.1" r="3.4"/><circle cx="1150.9" cy="631.7" r="3.4"/><circle cx="1152.9" cy="634.2" r="3.4"/><circle cx="1151.9" cy="636.1" r="3.4"/><circle cx="1152.2" cy="638.4" r="3.4"/><circle cx="1151.6" cy="640.9" r="3.4"/><circle cx="1154.2" cy="642.3" r="3.4"/><circle cx="1153.3" cy="644.6" r="3.4"/><circle cx="1153.6" cy="645.8" r="3.4"/><circle cx="1154.8" cy="648.4" r="3.4"/><circle cx="1152.8" cy="650.4" r="3.4"/><circle cx="1153.1" cy="654" r="3.4"/><circle cx="1152.6" cy="654.8" r="3.4"/><circle cx="1154.4" cy="657.2" r="3.4"/><circle cx="1152.7" cy="660.3" r="3.4"/><circle cx="1154.2" cy="662.3" r="3.4"/><circle cx="1154.6" cy="663.7" r="3.4"/><circle cx="1155.1" cy="667.1" r="3.4"/><circle cx="1153.3" cy="668.2" r="3.4"/><circle cx="1154.7" cy="671.1" r="3.4"/><circle cx="1154.4" cy="672.6" r="3.4"/><circle cx="1155" cy="674.8" r="3.4"/><circle cx="1155.8" cy="678.5" r="3.4"/><circle cx="1154.9" cy="680.1" r="3.4"/><circle cx="1156.7" cy="681.5" r="3.4"/><circle cx="1157.2" cy="685.3" r="3.4"/><circle cx="1156.3" cy="686.5" r="3.4"/><circle cx="1157.5" cy="688.9" r="3.4"/><circle cx="1156.4" cy="692" r="3.4"/><circle cx="1157.4" cy="693" r="3.4"/><circle cx="1156.1" cy="695.2" r="3.4"/><circle cx="1156.6" cy="698.7" r="3.4"/><circle cx="1157.6" cy="700.8" r="3.4"/><circle cx="1157.7" cy="702.8" r="3.4"/><circle cx="1155.8" cy="704.4" r="3.4"/><circle cx="1158.2" cy="707.4" r="3.4"/><circle cx="1156.5" cy="708.6" r="3.4"/><circle cx="1157.6" cy="710.7" r="3.4"/><circle cx="1157.5" cy="712.4" r="3.4"/><circle cx="1157.4" cy="715.4" r="3.4"/><circle cx="1156.5" cy="716.9" r="3.4"/><circle cx="1159.1" cy="720.4" r="3.4"/><circle cx="1159.2" cy="722.3" r="3.4"/><circle cx="1159" cy="725.1" r="3.4"/><circle cx="1159.4" cy="725.6" r="3.4"/><circle cx="1158.9" cy="728.3" r="3.4"/><circle cx="1159.1" cy="730.5" r="3.4"/><circle cx="1158.9" cy="734" r="3.4"/><circle cx="1159.2" cy="734.9" r="3.4"/><circle cx="1159.1" cy="737.4" r="3.4"/><circle cx="1160.4" cy="739.4" r="3.4"/><circle cx="1158.8" cy="742.3" r="3.4"/><circle cx="1158.5" cy="744.4" r="3.4"/><circle cx="1160.8" cy="746.5" r="3.4"/><circle cx="1159.1" cy="748.6" r="3.4"/><circle cx="1159.9" cy="750.2" r="3.4"/><circle cx="1159" cy="752.3" r="3.4"/><circle cx="1159.6" cy="755.1" r="3.4"/><circle cx="1159.7" cy="757" r="3.4"/><circle cx="1159.3" cy="759.8" r="3.4"/><circle cx="1161.4" cy="762.2" r="3.4"/><circle cx="1160.8" cy="764.5" r="3.4"/><circle cx="1160" cy="766.8" r="3.4"/><circle cx="1160.8" cy="768.7" r="3.4"/><circle cx="1161.3" cy="770.7" r="3.4"/><circle cx="1160.6" cy="772.5" r="3.4"/><circle cx="1160.5" cy="775.3" r="3.4"/><circle cx="1161" cy="777.6" r="3.4"/><circle cx="1160.1" cy="779.4" r="3.4"/><circle cx="1162.4" cy="781.4" r="3.4"/><circle cx="1161.7" cy="784.1" r="3.4"/><circle cx="1161.1" cy="787.3" r="3.4"/><circle cx="1161.4" cy="789.1" r="3.4"/><circle cx="1161.2" cy="789.9" r="3.4"/><circle cx="1163.3" cy="792.8" r="3.4"/><circle cx="1161.4" cy="794.9" r="3.4"/><circle cx="1162.6" cy="797.9" r="3.4"/><circle cx="1161.9" cy="799" r="3.4"/><circle cx="1164.4" cy="802.3" r="3.4"/><circle cx="1162.5" cy="803.7" r="3.4"/>
</g>
<polyline fill="none" stroke="#ff0000" stroke-width="8" stroke-linejoin="round" stroke-linecap="butt" points="1074.6,18.9 1074.6,22.8 1074.6,26.8 1074.6,30.8 1074.6,34.8 1074.6,38.8 1074.6,42.8 1074.6,48.8 1074.6,58.7 1074.6,68.7 1074.6,78.7 1074.6,88.6 1074.6,98.6 1074.6,108.6 1075.6,118.5 1076.6,138.5 1077.1,158.4 1080.4,178.3 1083.4,198.3 1087.3,218.2 1097.2,268 1105,317.9 1119.3,417.5 1131.7,517.2 1145.4,616.9 1153.6,716.5 1160.7,816.2"/>
<polyline fill="none" stroke="#0000ff" stroke-width="2.6" stroke-linejoin="round" stroke-linecap="butt" points="1067,28.8 1067.3,48.8 1068.3,68.7 1069.5,88.6 1075.5,108.6 1082.7,128.5 1083.1,148.4 1083.4,168.4 1085.6,188.3 1091.5,208.2 1097.9,228.2 1101.2,248.1 1105,268 1108.9,288 1110.7,307.9 1112.5,327.8 1114,347.8 1116.7,367.7 1118.5,387.6 1120.5,407.6 1123,427.5 1124.5,447.4 1126.1,467.4 1128.3,487.3 1131.2,507.2 1133.9,527.2 1136.2,547.1 1141.8,567 1145.2,587 1148,606.9 1150.8,626.8 1152.9,646.8 1153.6,666.7 1156,686.6 1156.4,706.6 1157.8,726.5 1159,746.4 1160.2,766.4 1161.1,786.3 1163,806.2"/>
<g fill="#0000ff">
<circle cx="1067" cy="28.8" r="6.1"/><circle cx="1067.3" cy="48.8" r="6.1"/><circle cx="1068.3" cy="68.7" r="6.1"/><circle cx="1069.5" cy="88.6" r="6.1"/><circle cx="1075.5" cy="108.6" r="6.1"/><circle cx="1082.7" cy="128.5" r="6.1"/><circle cx="1083.1" cy="148.4" r="6.1"/><circle cx="1083.4" cy="168.4" r="6.1"/><circle cx="1085.6" cy="188.3" r="6.1"/><circle cx="1091.5" cy="208.2" r="6.1"/><circle cx="1097.9" cy="228.2" r="6.1"/><circle cx="1101.2" cy="248.1" r="6.1"/><circle cx="1105" cy="268" r="6.1"/><circle cx="1108.9" cy="288" r="6.1"/><circle cx="1110.7" cy="307.9" r="6.1"/><circle cx="1112.5" cy="327.8" r="6.1"/><circle cx="1114" cy="347.8" r="6.1"/><circle cx="1116.7" cy="367.7" r="6.1"/><circle cx="1118.5" cy="387.6" r="6.1"/><circle cx="1120.5" cy="407.6" r="6.1"/><circle cx="1123" cy="427.5" r="6.1"/><circle cx="1124.5" cy="447.4" r="6.1"/><circle cx="1126.1" cy="467.4" r="6.1"/><circle cx="1128.3" cy="487.3" r="6.1"/><circle cx="1131.2" cy="507.2" r="6.1"/><circle cx="1133.9" cy="527.2" r="6.1"/><circle cx="1136.2" cy="547.1" r="6.1"/><circle cx="1141.8" cy="567" r="6.1"/><circle cx="1145.2" cy="587" r="6.1"/><circle cx="1148" cy="606.9" r="6.1"/><circle cx="1150.8" cy="626.8" r="6.1"/><circle cx="1152.9" cy="646.8" r="6.1"/><circle cx="1153.6" cy="666.7" r="6.1"/><circle cx="1156" cy="686.6" r="6.1"/><circle cx="1156.4" cy="706.6" r="6.1"/><circle cx="1157.8" cy="726.5" r="6.1"/><circle cx="1159" cy="746.4" r="6.1"/><circle cx="1160.2" cy="766.4" r="6.1"/><circle cx="1161.1" cy="786.3" r="6.1"/><circle cx="1163" cy="806.2" r="6.1"/>
</g>
<polyline fill="none" stroke="#ff0000" stroke-width="2.4" stroke-linejoin="round" stroke-linecap="butt" points="1074.6,18.9 1074.6,22.8 1074.6,26.8 1074.6,30.8 1074.6,34.8 1074.6,38.8 1074.6,42.8 1074.6,48.8 1074.6,58.7 1074.6,68.7 1074.6,78.7 1074.6,88.6 1074.6,98.6 1074.6,108.6 1075.6,118.5 1076.6,138.5 1077.1,158.4 1080.4,178.3 1083.4,198.3 1087.3,218.2 1097.2,268 1105,317.9 1119.3,417.5 1131.7,517.2 1145.4,616.9 1153.6,716.5 1160.7,816.2"/>
<g fill="#ff0000">
<circle cx="1074.6" cy="18.9" r="6.2"/><circle cx="1074.6" cy="22.8" r="6.2"/><circle cx="1074.6" cy="26.8" r="6.2"/><circle cx="1074.6" cy="30.8" r="6.2"/><circle cx="1074.6" cy="34.8" r="6.2"/><circle cx="1074.6" cy="38.8" r="6.2"/><circle cx="1074.6" cy="42.8" r="6.2"/><circle cx="1074.6" cy="48.8" r="6.2"/><circle cx="1074.6" cy="58.7" r="6.2"/><circle cx="1074.6" cy="68.7" r="6.2"/><circle cx="1074.6" cy="78.7" r="6.2"/><circle cx="1074.6" cy="88.6" r="6.2"/><circle cx="1074.6" cy="98.6" r="6.2"/><circle cx="1074.6" cy="108.6" r="6.2"/><circle cx="1075.6" cy="118.5" r="6.2"/><circle cx="1076.6" cy="138.5" r="6.2"/><circle cx="1077.1" cy="158.4" r="6.2"/><circle cx="1080.4" cy="178.3" r="6.2"/><circle cx="1083.4" cy="198.3" r="6.2"/><circle cx="1087.3" cy="218.2" r="6.2"/><circle cx="1097.2" cy="268" r="6.2"/><circle cx="1105" cy="317.9" r="6.2"/><circle cx="1119.3" cy="417.5" r="6.2"/><circle cx="1131.7" cy="517.2" r="6.2"/><circle cx="1145.4" cy="616.9" r="6.2"/><circle cx="1153.6" cy="716.5" r="6.2"/><circle cx="1160.7" cy="816.2" r="6.2"/>
</g>
<polyline fill="none" stroke="#008000" stroke-width="2.5" stroke-linejoin="round" stroke-linecap="butt" points="1073.8,18.9 1073.8,22.8 1073.8,26.8 1073.8,30.8 1073.8,34.8 1073.8,38.8 1073.8,42.8 1074.5,48.8 1075.3,58.7 1075.6,68.7 1076,78.7 1076.5,88.6 1076.8,98.6 1077.2,108.6 1078.2,118.5 1078.3,138.5 1078.6,158.4 1081.9,178.3 1085.1,198.3 1089.2,218.2 1099.4,268 1108,317.9 1123.1,417.5 1135.1,517.2 1147.7,616.9 1154.8,716.5 1161.4,816.2"/>
<g fill="#008000">
<circle cx="1073.8" cy="18.9" r="6.2"/><circle cx="1073.8" cy="22.8" r="6.2"/><circle cx="1073.8" cy="26.8" r="6.2"/><circle cx="1073.8" cy="30.8" r="6.2"/><circle cx="1073.8" cy="34.8" r="6.2"/><circle cx="1073.8" cy="38.8" r="6.2"/><circle cx="1073.8" cy="42.8" r="6.2"/><circle cx="1074.5" cy="48.8" r="6.2"/><circle cx="1075.3" cy="58.7" r="6.2"/><circle cx="1075.6" cy="68.7" r="6.2"/><circle cx="1076" cy="78.7" r="6.2"/><circle cx="1076.5" cy="88.6" r="6.2"/><circle cx="1076.8" cy="98.6" r="6.2"/><circle cx="1077.2" cy="108.6" r="6.2"/><circle cx="1078.2" cy="118.5" r="6.2"/><circle cx="1078.3" cy="138.5" r="6.2"/><circle cx="1078.6" cy="158.4" r="6.2"/><circle cx="1081.9" cy="178.3" r="6.2"/><circle cx="1085.1" cy="198.3" r="6.2"/><circle cx="1089.2" cy="218.2" r="6.2"/><circle cx="1099.4" cy="268" r="6.2"/><circle cx="1108" cy="317.9" r="6.2"/><circle cx="1123.1" cy="417.5" r="6.2"/><circle cx="1135.1" cy="517.2" r="6.2"/><circle cx="1147.7" cy="616.9" r="6.2"/><circle cx="1154.8" cy="716.5" r="6.2"/><circle cx="1161.4" cy="816.2" r="6.2"/>
</g>
<polyline fill="none" stroke="#ff00ff" stroke-width="2.5" stroke-linejoin="round" stroke-linecap="butt" points="1068.6,19.8 1068.6,21.9 1068.6,24.1 1068.6,26.5 1068.6,29 1068.6,31.7 1068.6,34.7 1068.6,37.9 1068.6,41.6 1068.6,45.7 1068.6,50.4 1068.6,55.7 1068.6,61.9 1069,69.1 1069.6,77.5 1070.3,87.5 1071.5,99.3 1071.5,113.3 1076.6,130 1082.7,150 1089.5,174 1094.5,202.9 1101.7,237.6 1106.2,279.3 1111.1,329.5 1120.3,389.9 1130.6,462.3 1140.2,549.2 1150.1,653 1159.5,776.8"/>
<g fill="#ff00ff">
<circle cx="1068.6" cy="19.8" r="6.2"/><circle cx="1068.6" cy="21.9" r="6.2"/><circle cx="1068.6" cy="24.1" r="6.2"/><circle cx="1068.6" cy="26.5" r="6.2"/><circle cx="1068.6" cy="29" r="6.2"/><circle cx="1068.6" cy="31.7" r="6.2"/><circle cx="1068.6" cy="34.7" r="6.2"/><circle cx="1068.6" cy="37.9" r="6.2"/><circle cx="1068.6" cy="41.6" r="6.2"/><circle cx="1068.6" cy="45.7" r="6.2"/><circle cx="1068.6" cy="50.4" r="6.2"/><circle cx="1068.6" cy="55.7" r="6.2"/><circle cx="1068.6" cy="61.9" r="6.2"/><circle cx="1069" cy="69.1" r="6.2"/><circle cx="1069.6" cy="77.5" r="6.2"/><circle cx="1070.3" cy="87.5" r="6.2"/><circle cx="1071.5" cy="99.3" r="6.2"/><circle cx="1071.5" cy="113.3" r="6.2"/><circle cx="1076.6" cy="130" r="6.2"/><circle cx="1082.7" cy="150" r="6.2"/><circle cx="1089.5" cy="174" r="6.2"/><circle cx="1094.5" cy="202.9" r="6.2"/><circle cx="1101.7" cy="237.6" r="6.2"/><circle cx="1106.2" cy="279.3" r="6.2"/><circle cx="1111.1" cy="329.5" r="6.2"/><circle cx="1120.3" cy="389.9" r="6.2"/><circle cx="1130.6" cy="462.3" r="6.2"/><circle cx="1140.2" cy="549.2" r="6.2"/><circle cx="1150.1" cy="653" r="6.2"/><circle cx="1159.5" cy="776.8" r="6.2"/>
</g>
</g>
<rect x="1059.5" y="19.4" width="395.2" height="794.9" fill="none" stroke="#000" stroke-width="1.4"/>
<g stroke="#000" stroke-width="1.3">
<line x1="1106.5" y1="814.3" x2="1106.5" y2="820.6"/>
<line x1="1187.5" y1="814.3" x2="1187.5" y2="820.6"/>
<line x1="1267.5" y1="814.3" x2="1267.5" y2="820.6"/>
<line x1="1347.5" y1="814.3" x2="1347.5" y2="820.6"/>
<line x1="1427.5" y1="814.3" x2="1427.5" y2="820.6"/>
<line x1="1053.2" y1="19.4" x2="1059.5" y2="19.4"/>
<line x1="1053.2" y1="68.5" x2="1059.5" y2="68.5"/>
<line x1="1053.2" y1="118.5" x2="1059.5" y2="118.5"/>
<line x1="1053.2" y1="168.5" x2="1059.5" y2="168.5"/>
<line x1="1053.2" y1="218.5" x2="1059.5" y2="218.5"/>
<line x1="1053.2" y1="268.5" x2="1059.5" y2="268.5"/>
<line x1="1053.2" y1="317.5" x2="1059.5" y2="317.5"/>
<line x1="1053.2" y1="367.5" x2="1059.5" y2="367.5"/>
<line x1="1053.2" y1="417.5" x2="1059.5" y2="417.5"/>
<line x1="1053.2" y1="467.5" x2="1059.5" y2="467.5"/>
<line x1="1053.2" y1="517.5" x2="1059.5" y2="517.5"/>
<line x1="1053.2" y1="567.5" x2="1059.5" y2="567.5"/>
<line x1="1053.2" y1="616.5" x2="1059.5" y2="616.5"/>
<line x1="1053.2" y1="666.5" x2="1059.5" y2="666.5"/>
<line x1="1053.2" y1="716.5" x2="1059.5" y2="716.5"/>
<line x1="1053.2" y1="766.5" x2="1059.5" y2="766.5"/>
</g>
<text x="0" y="0" font-size="17.7" text-anchor="middle" textLength="42.8" lengthAdjust="spacingAndGlyphs" transform="translate(1105.3 849.8) rotate(-45)" stroke="#000" stroke-width="0.2" dy="6.3">1025</text>
<text x="0" y="0" font-size="17.7" text-anchor="middle" textLength="42.8" lengthAdjust="spacingAndGlyphs" transform="translate(1185.5 849.8) rotate(-45)" stroke="#000" stroke-width="0.2" dy="6.3">1030</text>
<text x="0" y="0" font-size="17.7" text-anchor="middle" textLength="42.8" lengthAdjust="spacingAndGlyphs" transform="translate(1265.6 849.8) rotate(-45)" stroke="#000" stroke-width="0.2" dy="6.3">1035</text>
<text x="0" y="0" font-size="17.7" text-anchor="middle" textLength="42.8" lengthAdjust="spacingAndGlyphs" transform="translate(1345.8 849.8) rotate(-45)" stroke="#000" stroke-width="0.2" dy="6.3">1040</text>
<text x="0" y="0" font-size="17.7" text-anchor="middle" textLength="42.8" lengthAdjust="spacingAndGlyphs" transform="translate(1425.9 849.8) rotate(-45)" stroke="#000" stroke-width="0.2" dy="6.3">1045</text>
<text x="75.4" y="26.2" font-size="17.7" text-anchor="end" textLength="10.6" lengthAdjust="spacingAndGlyphs" stroke="#000" stroke-width="0.2">0</text>
<text x="74.6" y="76.1" font-size="17.7" text-anchor="end" textLength="21.1" lengthAdjust="spacingAndGlyphs" stroke="#000" stroke-width="0.2">25</text>
<text x="75.4" y="125.9" font-size="17.7" text-anchor="end" textLength="21.1" lengthAdjust="spacingAndGlyphs" stroke="#000" stroke-width="0.2">50</text>
<text x="74.6" y="175.8" font-size="17.7" text-anchor="end" textLength="21.1" lengthAdjust="spacingAndGlyphs" stroke="#000" stroke-width="0.2">75</text>
<text x="75.4" y="225.6" font-size="17.7" text-anchor="end" textLength="31.7" lengthAdjust="spacingAndGlyphs" stroke="#000" stroke-width="0.2">100</text>
<text x="74.6" y="275.4" font-size="17.7" text-anchor="end" textLength="31.7" lengthAdjust="spacingAndGlyphs" stroke="#000" stroke-width="0.2">125</text>
<text x="75.4" y="325.3" font-size="17.7" text-anchor="end" textLength="31.7" lengthAdjust="spacingAndGlyphs" stroke="#000" stroke-width="0.2">150</text>
<text x="74.6" y="375.1" font-size="17.7" text-anchor="end" textLength="31.7" lengthAdjust="spacingAndGlyphs" stroke="#000" stroke-width="0.2">175</text>
<text x="75.4" y="424.9" font-size="17.7" text-anchor="end" textLength="31.7" lengthAdjust="spacingAndGlyphs" stroke="#000" stroke-width="0.2">200</text>
<text x="74.6" y="474.8" font-size="17.7" text-anchor="end" textLength="31.7" lengthAdjust="spacingAndGlyphs" stroke="#000" stroke-width="0.2">225</text>
<text x="75.4" y="524.6" font-size="17.7" text-anchor="end" textLength="31.7" lengthAdjust="spacingAndGlyphs" stroke="#000" stroke-width="0.2">250</text>
<text x="74.6" y="574.4" font-size="17.7" text-anchor="end" textLength="31.7" lengthAdjust="spacingAndGlyphs" stroke="#000" stroke-width="0.2">275</text>
<text x="75.4" y="624.3" font-size="17.7" text-anchor="end" textLength="31.7" lengthAdjust="spacingAndGlyphs" stroke="#000" stroke-width="0.2">300</text>
<text x="74.6" y="674.1" font-size="17.7" text-anchor="end" textLength="31.7" lengthAdjust="spacingAndGlyphs" stroke="#000" stroke-width="0.2">325</text>
<text x="75.4" y="723.9" font-size="17.7" text-anchor="end" textLength="31.7" lengthAdjust="spacingAndGlyphs" stroke="#000" stroke-width="0.2">350</text>
<text x="74.6" y="773.8" font-size="17.7" text-anchor="end" textLength="31.7" lengthAdjust="spacingAndGlyphs" stroke="#000" stroke-width="0.2">375</text>
<text x="0" y="0" font-size="23.5" text-anchor="middle" font-weight="bold" textLength="127.5" lengthAdjust="spacingAndGlyphs" transform="translate(30.3 418.3) rotate(-90)" stroke="#000" stroke-width="0.5">Depth (m)</text>
<text x="175.6" y="871.8" font-size="23.5" font-weight="bold" stroke="#000" stroke-width="0.5"><tspan textLength="166.5" lengthAdjust="spacingAndGlyphs">Temperature</tspan><tspan dx="7.2" textLength="9.6" lengthAdjust="spacingAndGlyphs">(</tspan><tspan font-weight="normal" font-style="italic" font-size="15.6" dy="-8.4" dx="1.2" stroke-width="0.2">o</tspan><tspan font-weight="normal" font-style="italic" dy="8.4" dx="1.2" stroke-width="0.2">C</tspan><tspan dx="1.0">)</tspan></text>
<text x="770.8" y="870.2" font-size="23.5" text-anchor="middle" font-weight="bold" textLength="95.2" lengthAdjust="spacingAndGlyphs" stroke="#000" stroke-width="0.5">Salinity</text>
<text x="1256.5" y="895.8" font-size="23.5" text-anchor="middle" font-weight="bold" textLength="213.2" lengthAdjust="spacingAndGlyphs" stroke="#000" stroke-width="0.5">Density (kg m-3)</text>
<text y="918.2" font-size="17.6" font-style="italic" stroke="#000" stroke-width="0.2"><tspan x="409.3" textLength="55.7" lengthAdjust="spacingAndGlyphs">Ocean</tspan> <tspan x="470.1" textLength="41.6" lengthAdjust="spacingAndGlyphs">Heat</tspan> <tspan x="517" textLength="68.8" lengthAdjust="spacingAndGlyphs">Content</tspan> <tspan x="592.1" textLength="85.3" lengthAdjust="spacingAndGlyphs">(kJ/cm^2)</tspan> <tspan x="683" textLength="7.5" lengthAdjust="spacingAndGlyphs">-</tspan> <tspan x="695.1" textLength="57.4" lengthAdjust="spacingAndGlyphs">Glider:</tspan> <tspan x="758.7" textLength="64.9" lengthAdjust="spacingAndGlyphs">0.3509,</tspan> <tspan x="835.5" textLength="63.4" lengthAdjust="spacingAndGlyphs">RTOFS:</tspan> <tspan x="904.2" textLength="35.7" lengthAdjust="spacingAndGlyphs">N/A,</tspan> <tspan x="952.2" textLength="49.2" lengthAdjust="spacingAndGlyphs">ESPC:</tspan> <tspan x="1007.6" textLength="35.3" lengthAdjust="spacingAndGlyphs">N/A,</tspan> <tspan x="1055.4" textLength="69.4" lengthAdjust="spacingAndGlyphs">CMEMS:</tspan> <tspan x="1131.1" textLength="35.8" lengthAdjust="spacingAndGlyphs">N/A,</tspan></text>
<text x="1505.2" y="36.7" font-size="23.5" font-weight="bold" textLength="378.7" lengthAdjust="spacingAndGlyphs" stroke="#000" stroke-width="0.5">Comparison Date: 2024-12-13</text>
<text x="1505.2" y="90" font-size="23.5" font-weight="bold" textLength="169.4" lengthAdjust="spacingAndGlyphs" stroke="#000" stroke-width="0.5">Glider: sg512</text>
<text x="1505.2" y="116.5" font-size="23.5" font-weight="bold" textLength="128.6" lengthAdjust="spacingAndGlyphs" stroke="#000" stroke-width="0.5">Profiles: 1</text>
<text x="1505.2" y="143.1" font-size="23.5" font-weight="bold" textLength="338.8" lengthAdjust="spacingAndGlyphs" stroke="#000" stroke-width="0.5">First: 2024-12-13 13:31:31</text>
<text x="1505.2" y="169.6" font-size="23.5" font-weight="bold" textLength="334" lengthAdjust="spacingAndGlyphs" stroke="#000" stroke-width="0.5">Last: 2024-12-13 13:31:31</text>
<text x="1505.2" y="196.2" font-size="23.5" font-weight="bold" textLength="339.6" lengthAdjust="spacingAndGlyphs" stroke="#000" stroke-width="0.5">Method: Nearest-Neighbor</text>
<rect x="1545.5" y="290.4" width="394.9" height="253" fill="#6694ea"/>
<g clip-path="url(#cm)">
<rect x="1545.5" y="290.4" width="394.9" height="7.6" fill="#98b5e1"/>
<g fill="#8fb2e6" stroke="#8fb2e6" stroke-width="1.2" stroke-linejoin="round">
<polygon points="1642,371.1 1646.8,367.3 1651.3,368.9 1650.5,375.4 1646.2,376.4 1639.3,375.9 1636.1,377.5 1635,374.8 1638.2,371.1"/>
<polygon points="1655.9,374.8 1662.8,377.5 1667.1,374.8 1673.6,380.2 1680,383.1 1690.7,383.1 1695,387.7 1696.6,392.5 1693.9,394.8 1688.6,396.2 1682.7,397.8 1679.1,395.7 1678.4,389.3 1670.3,392 1666.1,387.1 1662.8,381.2"/>
<polygon points="1693.9,396.8 1701.4,395.7 1708.9,402.1 1711,405.3 1705.7,403.7 1699.3,400.5 1695,402.1 1692.8,405.3 1692.6,402.1"/>
</g>
<g fill="#9db9e4">
<polygon points="1545.4,336.8 1550.3,340.7 1558.9,342.4 1569,343.9 1564.3,346.7 1557.4,349.7 1551.4,345.4 1545.8,342.8"/>
<polygon points="1572.4,348.8 1578.8,343.9 1582.5,350.3 1584,355.7 1578.2,354.8"/>
<polygon points="1590.6,352.5 1594.3,354.8 1603.9,352.2 1606.2,355.2 1598.1,357.4"/>
<polygon points="1607.1,356.7 1614.6,354.4 1617.8,356.5 1615.2,359.1 1609.7,360.4"/>
<polygon points="1623.8,361.7 1627.5,360.8 1629,363.4 1626,364.7"/>
<circle cx="1625.5" cy="362.8" r="2"/>
<circle cx="1632.3" cy="377.7" r="1.3"/>
<circle cx="1663.6" cy="420.2" r="1.1"/>
<circle cx="1680.5" cy="420" r="0.8"/>
<circle cx="1653.4" cy="419.6" r="0.7"/>
<circle cx="1676.4" cy="426.4" r="0.7"/>
<circle cx="1565.5" cy="490" r="0.8"/>
<circle cx="1562" cy="521.6" r="0.8"/>
<circle cx="1564.5" cy="532.5" r="0.7"/>
<circle cx="1567.5" cy="541.8" r="1"/>
<circle cx="1593.6" cy="536" r="0.9"/>
<circle cx="1558.2" cy="339" r="1"/>
</g>
<g fill="#5a6b86"><circle cx="1555.6" cy="346.6" r="1.1"/><circle cx="1575.8" cy="350.0" r="0.8"/><circle cx="1613.6" cy="357.6" r="0.8"/><circle cx="1632.4" cy="377.6" r="0.9"/></g>
<g fill="#d2b48c" stroke="#000" stroke-width="2.1" stroke-linejoin="round">
<polygon points="1696.7,398.1 1699,399.8 1702.5,401.1 1706.5,403.4 1708.7,405.9 1711.4,409.2 1708.9,411.1 1705.7,412.6 1702.7,414.6 1699.7,417.6 1696.7,416.1 1696.3,412.8 1695.4,409.1 1693.9,405.1 1695.6,402.8 1696.3,400"/>
<polygon points="1685.8,386.7 1688.1,387.3 1689.4,388.8 1692,388.2 1694.8,389.5 1695.6,391.2 1694.6,392.7 1691.6,393.3 1689.4,392.3 1688.1,390.3 1686.2,389.5 1685.1,388"/>
<polygon points="1684.9,394 1687.1,393.6 1687.7,394.6 1685.8,395.5"/>
<polygon points="1680.6,388.4 1682.8,388 1683.6,389.9 1682.1,391.4 1680.6,390.3"/>
<polygon points="1676.6,384.6 1680,384.1 1684.3,385 1685.6,386.1 1683.2,386.5 1679.6,386.3 1676.8,385.8"/>
<polygon points="1663.7,379.4 1666.9,376.6 1668.8,377.7 1670.3,380.3 1672.3,382 1671.8,383.9 1669.5,384.1 1667.8,382.8 1665.4,382.4 1664.3,381.1"/>
<polygon points="1643.8,371.1 1646.3,369.6 1649.3,369.8 1650.4,371.9 1649.3,374.3 1646.6,375.1 1644.4,373.9"/>
<polygon points="1636.3,375.1 1637.8,372.8 1639.5,372.1 1639.7,373.6 1638.2,376 1636.7,376.6"/>
</g>
<circle cx="1687.5" cy="440.4" r="4.3" fill="#ff0000" stroke="#000" stroke-width="1.8"/>
</g>
<rect x="1545.5" y="290.4" width="394.9" height="253" fill="none" stroke="#000" stroke-width="1.5"/>
<g stroke="#000" stroke-width="1.5">
<line x1="1545.2" y1="290.4" x2="1545.2" y2="287.4"/><line x1="1545.2" y1="543.4" x2="1545.2" y2="546.4"/>
<line x1="1558.9" y1="290.4" x2="1558.9" y2="287.4"/><line x1="1558.9" y1="543.4" x2="1558.9" y2="546.4"/>
<line x1="1586.1" y1="290.4" x2="1586.1" y2="287.4"/><line x1="1586.1" y1="543.4" x2="1586.1" y2="546.4"/>
<line x1="1599.8" y1="290.4" x2="1599.8" y2="287.4"/><line x1="1599.8" y1="543.4" x2="1599.8" y2="546.4"/>
<line x1="1627" y1="290.4" x2="1627" y2="287.4"/><line x1="1627" y1="543.4" x2="1627" y2="546.4"/>
<line x1="1640.6" y1="290.4" x2="1640.6" y2="287.4"/><line x1="1640.6" y1="543.4" x2="1640.6" y2="546.4"/>
<line x1="1667.9" y1="290.4" x2="1667.9" y2="287.4"/><line x1="1667.9" y1="543.4" x2="1667.9" y2="546.4"/>
<line x1="1681.5" y1="290.4" x2="1681.5" y2="287.4"/><line x1="1681.5" y1="543.4" x2="1681.5" y2="546.4"/>
<line x1="1708.8" y1="290.4" x2="1708.8" y2="287.4"/><line x1="1708.8" y1="543.4" x2="1708.8" y2="546.4"/>
<line x1="1722.4" y1="290.4" x2="1722.4" y2="287.4"/><line x1="1722.4" y1="543.4" x2="1722.4" y2="546.4"/>
<line x1="1749.6" y1="290.4" x2="1749.6" y2="287.4"/><line x1="1749.6" y1="543.4" x2="1749.6" y2="546.4"/>
<line x1="1763.3" y1="290.4" x2="1763.3" y2="287.4"/><line x1="1763.3" y1="543.4" x2="1763.3" y2="546.4"/>
<line x1="1790.5" y1="290.4" x2="1790.5" y2="287.4"/><line x1="1790.5" y1="543.4" x2="1790.5" y2="546.4"/>
<line x1="1804.1" y1="290.4" x2="1804.1" y2="287.4"/><line x1="1804.1" y1="543.4" x2="1804.1" y2="546.4"/>
<line x1="1831.4" y1="290.4" x2="1831.4" y2="287.4"/><line x1="1831.4" y1="543.4" x2="1831.4" y2="546.4"/>
<line x1="1845" y1="290.4" x2="1845" y2="287.4"/><line x1="1845" y1="543.4" x2="1845" y2="546.4"/>
<line x1="1872.3" y1="290.4" x2="1872.3" y2="287.4"/><line x1="1872.3" y1="543.4" x2="1872.3" y2="546.4"/>
<line x1="1885.9" y1="290.4" x2="1885.9" y2="287.4"/><line x1="1885.9" y1="543.4" x2="1885.9" y2="546.4"/>
<line x1="1913.1" y1="290.4" x2="1913.1" y2="287.4"/><line x1="1913.1" y1="543.4" x2="1913.1" y2="546.4"/>
<line x1="1926.8" y1="290.4" x2="1926.8" y2="287.4"/><line x1="1926.8" y1="543.4" x2="1926.8" y2="546.4"/>
<line x1="1545.5" y1="543.4" x2="1542.5" y2="543.4"/><line x1="1940.4" y1="543.4" x2="1943.4" y2="543.4"/>
<line x1="1545.5" y1="529.6" x2="1542.5" y2="529.6"/><line x1="1940.4" y1="529.6" x2="1943.4" y2="529.6"/>
<line x1="1545.5" y1="501.9" x2="1542.5" y2="501.9"/><line x1="1940.4" y1="501.9" x2="1943.4" y2="501.9"/>
<line x1="1545.5" y1="488" x2="1542.5" y2="488"/><line x1="1940.4" y1="488" x2="1943.4" y2="488"/>
<line x1="1545.5" y1="460" x2="1542.5" y2="460"/><line x1="1940.4" y1="460" x2="1943.4" y2="460"/>
<line x1="1545.5" y1="445.9" x2="1542.5" y2="445.9"/><line x1="1940.4" y1="445.9" x2="1943.4" y2="445.9"/>
<line x1="1545.5" y1="417.4" x2="1542.5" y2="417.4"/><line x1="1940.4" y1="417.4" x2="1943.4" y2="417.4"/>
<line x1="1545.5" y1="403" x2="1542.5" y2="403"/><line x1="1940.4" y1="403" x2="1943.4" y2="403"/>
<line x1="1545.5" y1="374" x2="1542.5" y2="374"/><line x1="1940.4" y1="374" x2="1943.4" y2="374"/>
<line x1="1545.5" y1="359.3" x2="1542.5" y2="359.3"/><line x1="1940.4" y1="359.3" x2="1943.4" y2="359.3"/>
<line x1="1545.5" y1="329.7" x2="1542.5" y2="329.7"/><line x1="1940.4" y1="329.7" x2="1943.4" y2="329.7"/>
<line x1="1545.5" y1="314.6" x2="1542.5" y2="314.6"/><line x1="1940.4" y1="314.6" x2="1943.4" y2="314.6"/>
</g>
<g stroke="#000" stroke-width="3">
<line x1="1572.5" y1="290.4" x2="1572.5" y2="281.4"/><line x1="1572.5" y1="543.4" x2="1572.5" y2="552.4"/>
<line x1="1613.4" y1="290.4" x2="1613.4" y2="281.4"/><line x1="1613.4" y1="543.4" x2="1613.4" y2="552.4"/>
<line x1="1654.3" y1="290.4" x2="1654.3" y2="281.4"/><line x1="1654.3" y1="543.4" x2="1654.3" y2="552.4"/>
<line x1="1695.1" y1="290.4" x2="1695.1" y2="281.4"/><line x1="1695.1" y1="543.4" x2="1695.1" y2="552.4"/>
<line x1="1736" y1="290.4" x2="1736" y2="281.4"/><line x1="1736" y1="543.4" x2="1736" y2="552.4"/>
<line x1="1776.9" y1="290.4" x2="1776.9" y2="281.4"/><line x1="1776.9" y1="543.4" x2="1776.9" y2="552.4"/>
<line x1="1817.8" y1="290.4" x2="1817.8" y2="281.4"/><line x1="1817.8" y1="543.4" x2="1817.8" y2="552.4"/>
<line x1="1858.6" y1="290.4" x2="1858.6" y2="281.4"/><line x1="1858.6" y1="543.4" x2="1858.6" y2="552.4"/>
<line x1="1899.5" y1="290.4" x2="1899.5" y2="281.4"/><line x1="1899.5" y1="543.4" x2="1899.5" y2="552.4"/>
<line x1="1940.4" y1="290.4" x2="1940.4" y2="281.4"/><line x1="1940.4" y1="543.4" x2="1940.4" y2="552.4"/>
<line x1="1545.5" y1="515.8" x2="1536.5" y2="515.8"/><line x1="1940.4" y1="515.8" x2="1949.4" y2="515.8"/>
<line x1="1545.5" y1="474" x2="1536.5" y2="474"/><line x1="1940.4" y1="474" x2="1949.4" y2="474"/>
<line x1="1545.5" y1="431.7" x2="1536.5" y2="431.7"/><line x1="1940.4" y1="431.7" x2="1949.4" y2="431.7"/>
<line x1="1545.5" y1="388.5" x2="1536.5" y2="388.5"/><line x1="1940.4" y1="388.5" x2="1949.4" y2="388.5"/>
<line x1="1545.5" y1="344.5" x2="1536.5" y2="344.5"/><line x1="1940.4" y1="344.5" x2="1949.4" y2="344.5"/>
<line x1="1545.5" y1="299.5" x2="1536.5" y2="299.5"/><line x1="1940.4" y1="299.5" x2="1949.4" y2="299.5"/>
</g>
<text x="1530" y="524.2" font-size="22.9" text-anchor="end" textLength="56.6" lengthAdjust="spacingAndGlyphs" stroke="#000" stroke-width="0.2">12&#176;N</text>
<text x="1530" y="482.4" font-size="22.9" text-anchor="end" textLength="56.6" lengthAdjust="spacingAndGlyphs" stroke="#000" stroke-width="0.2">15&#176;N</text>
<text x="1530" y="440.1" font-size="22.9" text-anchor="end" textLength="56.6" lengthAdjust="spacingAndGlyphs" stroke="#000" stroke-width="0.2">18&#176;N</text>
<text x="1530" y="396.9" font-size="22.9" text-anchor="end" textLength="56.6" lengthAdjust="spacingAndGlyphs" stroke="#000" stroke-width="0.2">21&#176;N</text>
<text x="1530" y="352.9" font-size="22.9" text-anchor="end" textLength="56.6" lengthAdjust="spacingAndGlyphs" stroke="#000" stroke-width="0.2">24&#176;N</text>
<text x="1530" y="307.9" font-size="22.9" text-anchor="end" textLength="56.6" lengthAdjust="spacingAndGlyphs" stroke="#000" stroke-width="0.2">27&#176;N</text>
<text x="0" y="0" font-size="22.9" text-anchor="middle" textLength="76.4" lengthAdjust="spacingAndGlyphs" transform="translate(1570.5 593.3) rotate(-45)" stroke="#000" stroke-width="0.2" dy="8.2">165&#176;W</text>
<text x="0" y="0" font-size="22.9" text-anchor="middle" textLength="76.4" lengthAdjust="spacingAndGlyphs" transform="translate(1611.4 593.3) rotate(-45)" stroke="#000" stroke-width="0.2" dy="8.2">162&#176;W</text>
<text x="0" y="0" font-size="22.9" text-anchor="middle" textLength="76.4" lengthAdjust="spacingAndGlyphs" transform="translate(1652.3 593.3) rotate(-45)" stroke="#000" stroke-width="0.2" dy="8.2">159&#176;W</text>
<text x="0" y="0" font-size="22.9" text-anchor="middle" textLength="76.4" lengthAdjust="spacingAndGlyphs" transform="translate(1693.1 593.3) rotate(-45)" stroke="#000" stroke-width="0.2" dy="8.2">156&#176;W</text>
<text x="0" y="0" font-size="22.9" text-anchor="middle" textLength="76.4" lengthAdjust="spacingAndGlyphs" transform="translate(1734 593.3) rotate(-45)" stroke="#000" stroke-width="0.2" dy="8.2">153&#176;W</text>
<text x="0" y="0" font-size="22.9" text-anchor="middle" textLength="76.4" lengthAdjust="spacingAndGlyphs" transform="translate(1774.9 593.3) rotate(-45)" stroke="#000" stroke-width="0.2" dy="8.2">150&#176;W</text>
<text x="0" y="0" font-size="22.9" text-anchor="middle" textLength="76.4" lengthAdjust="spacingAndGlyphs" transform="translate(1815.8 593.3) rotate(-45)" stroke="#000" stroke-width="0.2" dy="8.2">147&#176;W</text>
<text x="0" y="0" font-size="22.9" text-anchor="middle" textLength="76.4" lengthAdjust="spacingAndGlyphs" transform="translate(1856.6 593.3) rotate(-45)" stroke="#000" stroke-width="0.2" dy="8.2">144&#176;W</text>
<text x="0" y="0" font-size="22.9" text-anchor="middle" textLength="76.4" lengthAdjust="spacingAndGlyphs" transform="translate(1897.5 593.3) rotate(-45)" stroke="#000" stroke-width="0.2" dy="8.2">141&#176;W</text>
<text x="0" y="0" font-size="22.9" text-anchor="middle" textLength="76.4" lengthAdjust="spacingAndGlyphs" transform="translate(1938.4 593.3) rotate(-45)" stroke="#000" stroke-width="0.2" dy="8.2">138&#176;W</text>
<rect x="1659.7" y="651.8" width="165.6" height="144.2" rx="4" ry="4" fill="#fff" stroke="#cccccc" stroke-width="1.4"/>
<line x1="1668.2" y1="672.4" x2="1715.9" y2="672.4" stroke="#0000ff" stroke-width="2.8"/>
<circle cx="1692.2" cy="672.4" r="6" fill="#0000ff"/>
<text x="1733.2" y="680" font-size="23.4" textLength="68.6" lengthAdjust="spacingAndGlyphs" stroke="#000" stroke-width="0.2">sg512</text>
<line x1="1668.2" y1="706.4" x2="1715.9" y2="706.4" stroke="#ff0000" stroke-width="2.8"/>
<circle cx="1692.2" cy="706.4" r="6" fill="#ff0000"/>
<text x="1733.2" y="714" font-size="23.4" textLength="72" lengthAdjust="spacingAndGlyphs" stroke="#000" stroke-width="0.2">RTOFS</text>
<line x1="1668.2" y1="740.4" x2="1715.9" y2="740.4" stroke="#008000" stroke-width="2.8"/>
<circle cx="1692.2" cy="740.4" r="6" fill="#008000"/>
<text x="1733.2" y="748" font-size="23.4" textLength="57.6" lengthAdjust="spacingAndGlyphs" stroke="#000" stroke-width="0.2">ESPC</text>
<line x1="1668.2" y1="774.4" x2="1715.9" y2="774.4" stroke="#ff00ff" stroke-width="2.8"/>
<circle cx="1692.2" cy="774.4" r="6" fill="#ff00ff"/>
<text x="1733.2" y="782" font-size="23.4" textLength="82.6" lengthAdjust="spacingAndGlyphs" stroke="#000" stroke-width="0.2">CMEMS</text>
</svg></body></html>
